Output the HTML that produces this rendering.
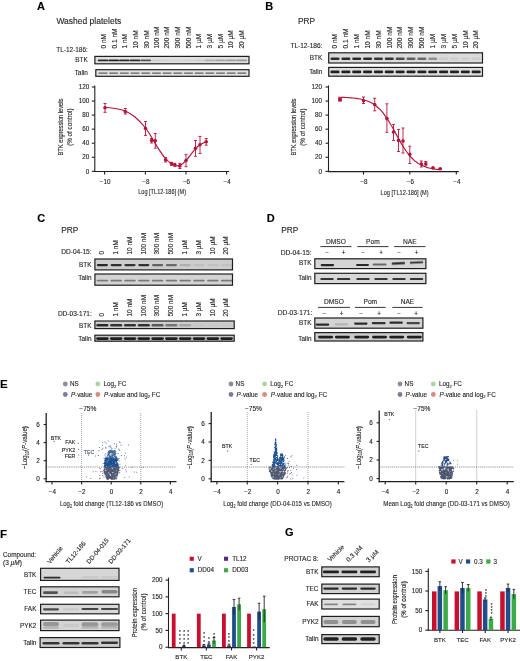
<!DOCTYPE html>
<html><head><meta charset="utf-8"><style>
html,body{margin:0;padding:0;background:#fff;width:520px;height:661px;overflow:hidden}
svg{display:block;filter:blur(0.4px)}
text{font-family:"Liberation Sans", sans-serif;stroke:#231f20;stroke-width:0.12px}
</style></head><body>
<svg width="520" height="661" viewBox="0 0 520 661" font-family='"Liberation Sans", sans-serif' fill="#231f20">
<defs><filter id="bl" x="-20%" y="-100%" width="140%" height="300%"><feGaussianBlur stdDeviation="0.45"/></filter></defs>
<rect width="520" height="661" fill="#fff"/>
<text x="37.00" y="10.20" font-size="11" font-weight="bold" fill="#000" style="stroke:#000">A</text>
<text x="56.40" y="24.00" font-size="8.5">Washed platelets</text>
<text x="56.30" y="52.00" font-size="6.45">TL-12-186:</text>
<text x="106.10" y="48.60" font-size="6.6" transform="rotate(-90 106.10 48.60)">0 nM</text>
<text x="116.78" y="48.60" font-size="6.6" transform="rotate(-90 116.78 48.60)">0.1 nM</text>
<text x="127.46" y="48.60" font-size="6.6" transform="rotate(-90 127.46 48.60)">1 nM</text>
<text x="138.14" y="48.60" font-size="6.6" transform="rotate(-90 138.14 48.60)">10 nM</text>
<text x="148.82" y="48.60" font-size="6.6" transform="rotate(-90 148.82 48.60)">30 nM</text>
<text x="158.70" y="48.60" font-size="6.6" transform="rotate(-90 158.70 48.60)">100 nM</text>
<text x="169.38" y="48.60" font-size="6.6" transform="rotate(-90 169.38 48.60)">200 nM</text>
<text x="180.06" y="48.60" font-size="6.6" transform="rotate(-90 180.06 48.60)">300 nM</text>
<text x="190.74" y="48.60" font-size="6.6" transform="rotate(-90 190.74 48.60)">500 nM</text>
<text x="201.42" y="48.60" font-size="6.6" transform="rotate(-90 201.42 48.60)">1 µM</text>
<text x="212.10" y="48.60" font-size="6.6" transform="rotate(-90 212.10 48.60)">3 µM</text>
<text x="222.78" y="48.60" font-size="6.6" transform="rotate(-90 222.78 48.60)">5 µM</text>
<text x="233.46" y="48.60" font-size="6.6" transform="rotate(-90 233.46 48.60)">10 µM</text>
<text x="244.14" y="48.60" font-size="6.6" transform="rotate(-90 244.14 48.60)">20 µM</text>
<text x="87.80" y="62.30" font-size="6.4" text-anchor="end">BTK</text>
<text x="87.80" y="75.30" font-size="6.4" text-anchor="end">Talin</text>
<rect x="94.90" y="56.40" width="154.10" height="7.40" fill="#e0e0e0" stroke="#1e1e1e" stroke-width="1.2" />
<rect x="97.70" y="59.45" width="10.60" height="1.90" rx="0.95" fill="#111" opacity="0.85" filter="url(#bl)"/>
<rect x="108.38" y="59.45" width="10.60" height="1.90" rx="0.95" fill="#111" opacity="0.90" filter="url(#bl)"/>
<rect x="119.06" y="59.45" width="10.60" height="1.90" rx="0.95" fill="#111" opacity="0.85" filter="url(#bl)"/>
<rect x="129.74" y="59.45" width="10.60" height="1.90" rx="0.95" fill="#111" opacity="0.85" filter="url(#bl)"/>
<rect x="140.42" y="59.45" width="10.60" height="1.90" rx="0.95" fill="#111" opacity="0.65" filter="url(#bl)"/>
<rect x="151.10" y="59.45" width="10.60" height="1.90" rx="0.95" fill="#111" opacity="0.08" filter="url(#bl)"/>
<rect x="161.78" y="59.45" width="10.60" height="1.90" rx="0.95" fill="#111" opacity="0.06" filter="url(#bl)"/>
<rect x="172.46" y="59.45" width="10.60" height="1.90" rx="0.95" fill="#111" opacity="0.06" filter="url(#bl)"/>
<rect x="183.14" y="59.45" width="10.60" height="1.90" rx="0.95" fill="#111" opacity="0.06" filter="url(#bl)"/>
<rect x="193.82" y="59.45" width="10.60" height="1.90" rx="0.95" fill="#111" opacity="0.08" filter="url(#bl)"/>
<rect x="204.50" y="59.45" width="10.60" height="1.90" rx="0.95" fill="#111" opacity="0.22" filter="url(#bl)"/>
<rect x="215.18" y="59.45" width="10.60" height="1.90" rx="0.95" fill="#111" opacity="0.28" filter="url(#bl)"/>
<rect x="225.86" y="59.45" width="10.60" height="1.90" rx="0.95" fill="#111" opacity="0.30" filter="url(#bl)"/>
<rect x="236.54" y="59.45" width="10.60" height="1.90" rx="0.95" fill="#111" opacity="0.33" filter="url(#bl)"/>
<rect x="95.80" y="69.70" width="153.20" height="6.60" fill="#e4e4e4" stroke="#1e1e1e" stroke-width="1.2" />
<rect x="98.40" y="72.40" width="9.20" height="1.40" rx="0.70" fill="#111" opacity="0.65" filter="url(#bl)"/>
<rect x="109.08" y="72.40" width="9.20" height="1.40" rx="0.70" fill="#111" opacity="0.65" filter="url(#bl)"/>
<rect x="119.76" y="72.40" width="9.20" height="1.40" rx="0.70" fill="#111" opacity="0.65" filter="url(#bl)"/>
<rect x="130.44" y="72.40" width="9.20" height="1.40" rx="0.70" fill="#111" opacity="0.65" filter="url(#bl)"/>
<rect x="141.12" y="72.40" width="9.20" height="1.40" rx="0.70" fill="#111" opacity="0.65" filter="url(#bl)"/>
<rect x="151.80" y="72.40" width="9.20" height="1.40" rx="0.70" fill="#111" opacity="0.65" filter="url(#bl)"/>
<rect x="162.48" y="72.40" width="9.20" height="1.40" rx="0.70" fill="#111" opacity="0.65" filter="url(#bl)"/>
<rect x="173.16" y="72.40" width="9.20" height="1.40" rx="0.70" fill="#111" opacity="0.65" filter="url(#bl)"/>
<rect x="183.84" y="72.40" width="9.20" height="1.40" rx="0.70" fill="#111" opacity="0.65" filter="url(#bl)"/>
<rect x="194.52" y="72.40" width="9.20" height="1.40" rx="0.70" fill="#111" opacity="0.65" filter="url(#bl)"/>
<rect x="205.20" y="72.40" width="9.20" height="1.40" rx="0.70" fill="#111" opacity="0.65" filter="url(#bl)"/>
<rect x="215.88" y="72.40" width="9.20" height="1.40" rx="0.70" fill="#111" opacity="0.65" filter="url(#bl)"/>
<rect x="226.56" y="72.40" width="9.20" height="1.40" rx="0.70" fill="#111" opacity="0.65" filter="url(#bl)"/>
<rect x="237.24" y="72.40" width="9.20" height="1.40" rx="0.70" fill="#111" opacity="0.65" filter="url(#bl)"/>
<line x1="94.80" y1="85.50" x2="94.80" y2="172.00" stroke="#231f20" stroke-width="1.1"/>
<line x1="91.80" y1="171.30" x2="94.80" y2="171.30" stroke="#231f20" stroke-width="1.1"/>
<text x="89.30" y="173.50" font-size="6.3" text-anchor="end">0</text>
<line x1="91.80" y1="157.25" x2="94.80" y2="157.25" stroke="#231f20" stroke-width="1.1"/>
<text x="89.30" y="159.45" font-size="6.3" text-anchor="end">20</text>
<line x1="91.80" y1="143.20" x2="94.80" y2="143.20" stroke="#231f20" stroke-width="1.1"/>
<text x="89.30" y="145.40" font-size="6.3" text-anchor="end">40</text>
<line x1="91.80" y1="129.15" x2="94.80" y2="129.15" stroke="#231f20" stroke-width="1.1"/>
<text x="89.30" y="131.35" font-size="6.3" text-anchor="end">60</text>
<line x1="91.80" y1="115.10" x2="94.80" y2="115.10" stroke="#231f20" stroke-width="1.1"/>
<text x="89.30" y="117.30" font-size="6.3" text-anchor="end">80</text>
<line x1="91.80" y1="101.05" x2="94.80" y2="101.05" stroke="#231f20" stroke-width="1.1"/>
<text x="89.30" y="103.25" font-size="6.3" text-anchor="end">100</text>
<line x1="91.80" y1="87.00" x2="94.80" y2="87.00" stroke="#231f20" stroke-width="1.1"/>
<text x="89.30" y="89.20" font-size="6.3" text-anchor="end">120</text>
<line x1="94.20" y1="171.50" x2="229.20" y2="171.50" stroke="#231f20" stroke-width="1.1"/>
<line x1="104.60" y1="171.50" x2="104.60" y2="174.60" stroke="#231f20" stroke-width="1.1"/>
<text x="105.10" y="183.60" font-size="6.3" text-anchor="middle">−10</text>
<line x1="145.40" y1="171.50" x2="145.40" y2="174.60" stroke="#231f20" stroke-width="1.1"/>
<text x="145.90" y="183.60" font-size="6.3" text-anchor="middle">−8</text>
<line x1="186.00" y1="171.50" x2="186.00" y2="174.60" stroke="#231f20" stroke-width="1.1"/>
<text x="186.50" y="183.60" font-size="6.3" text-anchor="middle">−6</text>
<line x1="226.60" y1="171.50" x2="226.60" y2="174.60" stroke="#231f20" stroke-width="1.1"/>
<text x="227.10" y="183.60" font-size="6.3" text-anchor="middle">−4</text>
<text x="138.20" y="194.40" font-size="7.0" textLength="47.80" lengthAdjust="spacingAndGlyphs">Log [TL12-186] (M)</text>
<text x="63.10" y="127.10" font-size="6.8" text-anchor="middle" textLength="57.00" lengthAdjust="spacingAndGlyphs" transform="rotate(-90 63.10 127.10)">BTK expression levels</text>
<text x="71.90" y="127.10" font-size="6.8" text-anchor="middle" textLength="37.40" lengthAdjust="spacingAndGlyphs" transform="rotate(-90 71.90 127.10)">(% of control)</text>
<path d="M105.00,107.30 C106.67,107.50 111.67,107.88 115.00,108.50 C118.33,109.12 121.67,109.58 125.00,111.00 C128.33,112.42 131.58,114.17 135.00,117.00 C138.42,119.83 142.67,124.50 145.50,128.00 C148.33,131.50 149.92,134.67 152.00,138.00 C154.08,141.33 155.83,144.67 158.00,148.00 C160.17,151.33 162.83,155.42 165.00,158.00 C167.17,160.58 169.17,162.23 171.00,163.50 C172.83,164.77 174.50,165.27 176.00,165.60 C177.50,165.93 178.33,166.33 180.00,165.50 C181.67,164.67 183.42,163.42 186.00,160.60 C188.58,157.78 193.17,151.22 195.50,148.60 C197.83,145.98 198.22,146.05 200.00,144.90 C201.78,143.75 205.17,142.23 206.20,141.70" fill="none" stroke="#b3133a" stroke-width="1.15"/>
<line x1="105.00" y1="103.50" x2="105.00" y2="112.30" stroke="#b3133a" stroke-width="0.9"/>
<line x1="103.50" y1="103.50" x2="106.50" y2="103.50" stroke="#b3133a" stroke-width="0.9"/>
<line x1="103.50" y1="112.30" x2="106.50" y2="112.30" stroke="#b3133a" stroke-width="0.9"/>
<circle cx="105.00" cy="107.70" r="1.8" fill="#b3133a"/>
<line x1="125.30" y1="108.50" x2="125.30" y2="114.00" stroke="#b3133a" stroke-width="0.9"/>
<line x1="123.80" y1="108.50" x2="126.80" y2="108.50" stroke="#b3133a" stroke-width="0.9"/>
<line x1="123.80" y1="114.00" x2="126.80" y2="114.00" stroke="#b3133a" stroke-width="0.9"/>
<circle cx="125.30" cy="111.50" r="1.8" fill="#b3133a"/>
<line x1="145.50" y1="121.50" x2="145.50" y2="135.40" stroke="#b3133a" stroke-width="0.9"/>
<line x1="144.00" y1="121.50" x2="147.00" y2="121.50" stroke="#b3133a" stroke-width="0.9"/>
<line x1="144.00" y1="135.40" x2="147.00" y2="135.40" stroke="#b3133a" stroke-width="0.9"/>
<circle cx="145.50" cy="128.50" r="1.8" fill="#b3133a"/>
<line x1="151.60" y1="138.50" x2="151.60" y2="143.00" stroke="#b3133a" stroke-width="0.9"/>
<line x1="150.10" y1="138.50" x2="153.10" y2="138.50" stroke="#b3133a" stroke-width="0.9"/>
<line x1="150.10" y1="143.00" x2="153.10" y2="143.00" stroke="#b3133a" stroke-width="0.9"/>
<circle cx="151.60" cy="140.50" r="1.8" fill="#b3133a"/>
<line x1="155.30" y1="133.50" x2="155.30" y2="148.20" stroke="#b3133a" stroke-width="0.9"/>
<line x1="153.80" y1="133.50" x2="156.80" y2="133.50" stroke="#b3133a" stroke-width="0.9"/>
<line x1="153.80" y1="148.20" x2="156.80" y2="148.20" stroke="#b3133a" stroke-width="0.9"/>
<circle cx="155.30" cy="140.80" r="1.8" fill="#b3133a"/>
<line x1="165.60" y1="157.50" x2="165.60" y2="162.00" stroke="#b3133a" stroke-width="0.9"/>
<line x1="164.10" y1="157.50" x2="167.10" y2="157.50" stroke="#b3133a" stroke-width="0.9"/>
<line x1="164.10" y1="162.00" x2="167.10" y2="162.00" stroke="#b3133a" stroke-width="0.9"/>
<circle cx="165.60" cy="159.70" r="1.8" fill="#b3133a"/>
<line x1="171.50" y1="162.30" x2="171.50" y2="165.30" stroke="#b3133a" stroke-width="0.9"/>
<line x1="170.00" y1="162.30" x2="173.00" y2="162.30" stroke="#b3133a" stroke-width="0.9"/>
<line x1="170.00" y1="165.30" x2="173.00" y2="165.30" stroke="#b3133a" stroke-width="0.9"/>
<circle cx="171.50" cy="163.80" r="1.8" fill="#b3133a"/>
<line x1="174.80" y1="163.30" x2="174.80" y2="166.30" stroke="#b3133a" stroke-width="0.9"/>
<line x1="173.30" y1="163.30" x2="176.30" y2="163.30" stroke="#b3133a" stroke-width="0.9"/>
<line x1="173.30" y1="166.30" x2="176.30" y2="166.30" stroke="#b3133a" stroke-width="0.9"/>
<circle cx="174.80" cy="164.80" r="1.8" fill="#b3133a"/>
<line x1="179.80" y1="163.30" x2="179.80" y2="168.50" stroke="#b3133a" stroke-width="0.9"/>
<line x1="178.30" y1="163.30" x2="181.30" y2="163.30" stroke="#b3133a" stroke-width="0.9"/>
<line x1="178.30" y1="168.50" x2="181.30" y2="168.50" stroke="#b3133a" stroke-width="0.9"/>
<circle cx="179.80" cy="165.90" r="1.8" fill="#b3133a"/>
<line x1="186.00" y1="154.40" x2="186.00" y2="166.70" stroke="#b3133a" stroke-width="0.9"/>
<line x1="184.50" y1="154.40" x2="187.50" y2="154.40" stroke="#b3133a" stroke-width="0.9"/>
<line x1="184.50" y1="166.70" x2="187.50" y2="166.70" stroke="#b3133a" stroke-width="0.9"/>
<circle cx="186.00" cy="160.60" r="1.8" fill="#b3133a"/>
<line x1="195.50" y1="140.50" x2="195.50" y2="156.30" stroke="#b3133a" stroke-width="0.9"/>
<line x1="194.00" y1="140.50" x2="197.00" y2="140.50" stroke="#b3133a" stroke-width="0.9"/>
<line x1="194.00" y1="156.30" x2="197.00" y2="156.30" stroke="#b3133a" stroke-width="0.9"/>
<circle cx="195.50" cy="148.30" r="1.8" fill="#b3133a"/>
<line x1="200.00" y1="136.40" x2="200.00" y2="153.50" stroke="#b3133a" stroke-width="0.9"/>
<line x1="198.50" y1="136.40" x2="201.50" y2="136.40" stroke="#b3133a" stroke-width="0.9"/>
<line x1="198.50" y1="153.50" x2="201.50" y2="153.50" stroke="#b3133a" stroke-width="0.9"/>
<circle cx="200.00" cy="144.80" r="1.8" fill="#b3133a"/>
<line x1="206.20" y1="138.50" x2="206.20" y2="145.20" stroke="#b3133a" stroke-width="0.9"/>
<line x1="204.70" y1="138.50" x2="207.70" y2="138.50" stroke="#b3133a" stroke-width="0.9"/>
<line x1="204.70" y1="145.20" x2="207.70" y2="145.20" stroke="#b3133a" stroke-width="0.9"/>
<circle cx="206.20" cy="141.70" r="1.8" fill="#b3133a"/>
<text x="265.20" y="10.20" font-size="11" font-weight="bold" fill="#000" style="stroke:#000">B</text>
<text x="298.00" y="24.00" font-size="8.3">PRP</text>
<text x="290.40" y="47.70" font-size="6.55">TL-12-186:</text>
<text x="337.30" y="48.60" font-size="6.6" transform="rotate(-90 337.30 48.60)">0 nM</text>
<text x="348.16" y="48.60" font-size="6.6" transform="rotate(-90 348.16 48.60)">0.1 nM</text>
<text x="359.02" y="48.60" font-size="6.6" transform="rotate(-90 359.02 48.60)">1 nM</text>
<text x="369.88" y="48.60" font-size="6.6" transform="rotate(-90 369.88 48.60)">10 nM</text>
<text x="380.74" y="48.60" font-size="6.6" transform="rotate(-90 380.74 48.60)">30 nM</text>
<text x="391.60" y="48.60" font-size="6.6" transform="rotate(-90 391.60 48.60)">100 nM</text>
<text x="402.46" y="48.60" font-size="6.6" transform="rotate(-90 402.46 48.60)">200 nM</text>
<text x="413.32" y="48.60" font-size="6.6" transform="rotate(-90 413.32 48.60)">300 nM</text>
<text x="424.18" y="48.60" font-size="6.6" transform="rotate(-90 424.18 48.60)">500 nM</text>
<text x="435.04" y="48.60" font-size="6.6" transform="rotate(-90 435.04 48.60)">1 µM</text>
<text x="445.90" y="48.60" font-size="6.6" transform="rotate(-90 445.90 48.60)">3 µM</text>
<text x="456.76" y="48.60" font-size="6.6" transform="rotate(-90 456.76 48.60)">5 µM</text>
<text x="467.62" y="48.60" font-size="6.6" transform="rotate(-90 467.62 48.60)">10 µM</text>
<text x="478.48" y="48.60" font-size="6.6" transform="rotate(-90 478.48 48.60)">20 µM</text>
<text x="322.30" y="59.80" font-size="6.4" text-anchor="end">BTK</text>
<text x="322.30" y="73.80" font-size="6.4" text-anchor="end">Talin</text>
<rect x="328.70" y="52.80" width="153.80" height="10.20" fill="#dadada" stroke="#1e1e1e" stroke-width="1.2" />
<rect x="330.50" y="57.45" width="9.00" height="2.50" rx="1.25" fill="#111" opacity="0.85" filter="url(#bl)"/>
<rect x="341.36" y="57.45" width="9.00" height="2.50" rx="1.25" fill="#111" opacity="0.85" filter="url(#bl)"/>
<rect x="352.22" y="57.45" width="9.00" height="2.50" rx="1.25" fill="#111" opacity="0.85" filter="url(#bl)"/>
<rect x="363.08" y="57.45" width="9.00" height="2.50" rx="1.25" fill="#111" opacity="0.85" filter="url(#bl)"/>
<rect x="373.94" y="57.45" width="9.00" height="2.50" rx="1.25" fill="#111" opacity="0.80" filter="url(#bl)"/>
<rect x="384.80" y="57.45" width="9.00" height="2.50" rx="1.25" fill="#111" opacity="0.80" filter="url(#bl)"/>
<rect x="395.66" y="57.45" width="9.00" height="2.50" rx="1.25" fill="#111" opacity="0.70" filter="url(#bl)"/>
<rect x="406.52" y="57.45" width="9.00" height="2.50" rx="1.25" fill="#111" opacity="0.60" filter="url(#bl)"/>
<rect x="417.38" y="57.45" width="9.00" height="2.50" rx="1.25" fill="#111" opacity="0.55" filter="url(#bl)"/>
<rect x="428.24" y="57.45" width="9.00" height="2.50" rx="1.25" fill="#111" opacity="0.35" filter="url(#bl)"/>
<rect x="439.10" y="57.45" width="9.00" height="2.50" rx="1.25" fill="#111" opacity="0.06" filter="url(#bl)"/>
<rect x="449.96" y="57.45" width="9.00" height="2.50" rx="1.25" fill="#111" opacity="0.05" filter="url(#bl)"/>
<rect x="460.82" y="57.45" width="9.00" height="2.50" rx="1.25" fill="#111" opacity="0.05" filter="url(#bl)"/>
<rect x="471.68" y="57.45" width="9.00" height="2.50" rx="1.25" fill="#111" opacity="0.05" filter="url(#bl)"/>
<rect x="328.70" y="67.40" width="153.80" height="8.80" fill="#dcdcdc" stroke="#1e1e1e" stroke-width="1.2" />
<rect x="330.40" y="70.55" width="9.20" height="2.70" rx="1.35" fill="#111" opacity="0.90" filter="url(#bl)"/>
<rect x="341.26" y="70.55" width="9.20" height="2.70" rx="1.35" fill="#111" opacity="0.90" filter="url(#bl)"/>
<rect x="352.12" y="70.55" width="9.20" height="2.70" rx="1.35" fill="#111" opacity="0.90" filter="url(#bl)"/>
<rect x="362.98" y="70.55" width="9.20" height="2.70" rx="1.35" fill="#111" opacity="0.90" filter="url(#bl)"/>
<rect x="373.84" y="70.55" width="9.20" height="2.70" rx="1.35" fill="#111" opacity="0.90" filter="url(#bl)"/>
<rect x="384.70" y="70.55" width="9.20" height="2.70" rx="1.35" fill="#111" opacity="0.90" filter="url(#bl)"/>
<rect x="395.56" y="70.55" width="9.20" height="2.70" rx="1.35" fill="#111" opacity="0.90" filter="url(#bl)"/>
<rect x="406.42" y="70.55" width="9.20" height="2.70" rx="1.35" fill="#111" opacity="0.90" filter="url(#bl)"/>
<rect x="417.28" y="70.55" width="9.20" height="2.70" rx="1.35" fill="#111" opacity="0.90" filter="url(#bl)"/>
<rect x="428.14" y="70.55" width="9.20" height="2.70" rx="1.35" fill="#111" opacity="0.90" filter="url(#bl)"/>
<rect x="439.00" y="70.55" width="9.20" height="2.70" rx="1.35" fill="#111" opacity="0.90" filter="url(#bl)"/>
<rect x="449.86" y="70.55" width="9.20" height="2.70" rx="1.35" fill="#111" opacity="0.90" filter="url(#bl)"/>
<rect x="460.72" y="70.55" width="9.20" height="2.70" rx="1.35" fill="#111" opacity="0.90" filter="url(#bl)"/>
<rect x="471.58" y="70.55" width="9.20" height="2.70" rx="1.35" fill="#111" opacity="0.90" filter="url(#bl)"/>
<line x1="328.50" y1="85.50" x2="328.50" y2="172.00" stroke="#231f20" stroke-width="1.1"/>
<line x1="325.50" y1="171.30" x2="328.50" y2="171.30" stroke="#231f20" stroke-width="1.1"/>
<text x="322.00" y="173.50" font-size="6.3" text-anchor="end">0</text>
<line x1="325.50" y1="157.25" x2="328.50" y2="157.25" stroke="#231f20" stroke-width="1.1"/>
<text x="322.00" y="159.45" font-size="6.3" text-anchor="end">20</text>
<line x1="325.50" y1="143.20" x2="328.50" y2="143.20" stroke="#231f20" stroke-width="1.1"/>
<text x="322.00" y="145.40" font-size="6.3" text-anchor="end">40</text>
<line x1="325.50" y1="129.15" x2="328.50" y2="129.15" stroke="#231f20" stroke-width="1.1"/>
<text x="322.00" y="131.35" font-size="6.3" text-anchor="end">60</text>
<line x1="325.50" y1="115.10" x2="328.50" y2="115.10" stroke="#231f20" stroke-width="1.1"/>
<text x="322.00" y="117.30" font-size="6.3" text-anchor="end">80</text>
<line x1="325.50" y1="101.05" x2="328.50" y2="101.05" stroke="#231f20" stroke-width="1.1"/>
<text x="322.00" y="103.25" font-size="6.3" text-anchor="end">100</text>
<line x1="325.50" y1="87.00" x2="328.50" y2="87.00" stroke="#231f20" stroke-width="1.1"/>
<text x="322.00" y="89.20" font-size="6.3" text-anchor="end">120</text>
<line x1="328.00" y1="171.60" x2="458.80" y2="171.60" stroke="#231f20" stroke-width="1.1"/>
<line x1="363.50" y1="171.60" x2="363.50" y2="174.60" stroke="#231f20" stroke-width="1.1"/>
<text x="364.00" y="183.60" font-size="6.3" text-anchor="middle">−8</text>
<line x1="409.80" y1="171.60" x2="409.80" y2="174.60" stroke="#231f20" stroke-width="1.1"/>
<text x="410.30" y="183.60" font-size="6.3" text-anchor="middle">−6</text>
<line x1="456.30" y1="171.60" x2="456.30" y2="174.60" stroke="#231f20" stroke-width="1.1"/>
<text x="456.80" y="183.60" font-size="6.3" text-anchor="middle">−4</text>
<text x="380.60" y="195.20" font-size="7.0" textLength="48.00" lengthAdjust="spacingAndGlyphs">Log [TL12-186] (M)</text>
<text x="296.20" y="127.10" font-size="6.8" text-anchor="middle" textLength="57.00" lengthAdjust="spacingAndGlyphs" transform="rotate(-90 296.20 127.10)">BTK expression levels</text>
<text x="305.20" y="127.10" font-size="6.8" text-anchor="middle" textLength="37.40" lengthAdjust="spacingAndGlyphs" transform="rotate(-90 305.20 127.10)">(% of control)</text>
<path d="M338.00,97.21 C338.43,97.22 339.73,97.25 340.60,97.27 C341.47,97.30 342.33,97.33 343.20,97.36 C344.07,97.40 344.93,97.43 345.80,97.48 C346.67,97.52 347.53,97.57 348.40,97.62 C349.27,97.68 350.13,97.74 351.00,97.81 C351.87,97.88 352.73,97.96 353.60,98.05 C354.47,98.15 355.33,98.25 356.20,98.37 C357.07,98.49 357.93,98.62 358.80,98.77 C359.67,98.92 360.53,99.09 361.40,99.28 C362.27,99.47 363.13,99.69 364.00,99.93 C364.87,100.18 365.73,100.45 366.60,100.76 C367.47,101.07 368.33,101.41 369.20,101.80 C370.07,102.20 370.93,102.62 371.80,103.11 C372.67,103.60 373.53,104.13 374.40,104.73 C375.27,105.33 376.13,105.98 377.00,106.71 C377.87,107.45 378.73,108.24 379.60,109.12 C380.47,109.99 381.33,110.94 382.20,111.97 C383.07,113.00 383.93,114.11 384.80,115.29 C385.67,116.48 386.53,117.75 387.40,119.08 C388.27,120.40 389.13,121.82 390.00,123.27 C390.87,124.72 391.73,126.24 392.60,127.78 C393.47,129.32 394.33,130.91 395.20,132.49 C396.07,134.06 396.93,135.67 397.80,137.24 C398.67,138.80 399.53,140.37 400.40,141.87 C401.27,143.38 402.13,144.85 403.00,146.25 C403.87,147.65 404.73,149.00 405.60,150.27 C406.47,151.53 407.33,152.73 408.20,153.85 C409.07,154.96 409.93,156.00 410.80,156.96 C411.67,157.92 412.53,158.79 413.40,159.60 C414.27,160.41 415.13,161.14 416.00,161.81 C416.87,162.48 417.73,163.07 418.60,163.62 C419.47,164.17 420.33,164.65 421.20,165.09 C422.07,165.53 422.93,165.92 423.80,166.27 C424.67,166.63 425.53,166.93 426.40,167.21 C427.27,167.49 428.13,167.74 429.00,167.96 C429.87,168.18 430.73,168.37 431.60,168.54 C432.47,168.72 433.33,168.86 434.20,169.00 C435.07,169.14 435.93,169.25 436.80,169.36 C437.67,169.46 438.97,169.59 439.40,169.64" fill="none" stroke="#b3133a" stroke-width="1.15"/>
<line x1="340.00" y1="99.80" x2="340.00" y2="99.80" stroke="#b3133a" stroke-width="0.9"/>
<line x1="338.50" y1="99.80" x2="341.50" y2="99.80" stroke="#b3133a" stroke-width="0.9"/>
<line x1="338.50" y1="99.80" x2="341.50" y2="99.80" stroke="#b3133a" stroke-width="0.9"/>
<rect x="338.20" y="98.00" width="3.60" height="3.60" fill="#b3133a" />
<line x1="363.50" y1="97.00" x2="363.50" y2="103.50" stroke="#b3133a" stroke-width="0.9"/>
<line x1="362.00" y1="97.00" x2="365.00" y2="97.00" stroke="#b3133a" stroke-width="0.9"/>
<line x1="362.00" y1="103.50" x2="365.00" y2="103.50" stroke="#b3133a" stroke-width="0.9"/>
<circle cx="363.50" cy="100.80" r="1.8" fill="#b3133a"/>
<line x1="374.70" y1="98.30" x2="374.70" y2="110.80" stroke="#b3133a" stroke-width="0.9"/>
<line x1="373.20" y1="98.30" x2="376.20" y2="98.30" stroke="#b3133a" stroke-width="0.9"/>
<line x1="373.20" y1="110.80" x2="376.20" y2="110.80" stroke="#b3133a" stroke-width="0.9"/>
<circle cx="374.70" cy="104.50" r="1.8" fill="#b3133a"/>
<line x1="386.90" y1="103.80" x2="386.90" y2="132.30" stroke="#b3133a" stroke-width="0.9"/>
<line x1="385.40" y1="103.80" x2="388.40" y2="103.80" stroke="#b3133a" stroke-width="0.9"/>
<line x1="385.40" y1="132.30" x2="388.40" y2="132.30" stroke="#b3133a" stroke-width="0.9"/>
<circle cx="386.90" cy="118.50" r="1.8" fill="#b3133a"/>
<line x1="393.50" y1="124.60" x2="393.50" y2="140.40" stroke="#b3133a" stroke-width="0.9"/>
<line x1="392.00" y1="124.60" x2="395.00" y2="124.60" stroke="#b3133a" stroke-width="0.9"/>
<line x1="392.00" y1="140.40" x2="395.00" y2="140.40" stroke="#b3133a" stroke-width="0.9"/>
<circle cx="393.50" cy="132.00" r="1.8" fill="#b3133a"/>
<line x1="398.50" y1="129.40" x2="398.50" y2="151.50" stroke="#b3133a" stroke-width="0.9"/>
<line x1="397.00" y1="129.40" x2="400.00" y2="129.40" stroke="#b3133a" stroke-width="0.9"/>
<line x1="397.00" y1="151.50" x2="400.00" y2="151.50" stroke="#b3133a" stroke-width="0.9"/>
<circle cx="398.50" cy="140.40" r="1.8" fill="#b3133a"/>
<line x1="403.00" y1="128.00" x2="403.00" y2="153.00" stroke="#b3133a" stroke-width="0.9"/>
<line x1="401.50" y1="128.00" x2="404.50" y2="128.00" stroke="#b3133a" stroke-width="0.9"/>
<line x1="401.50" y1="153.00" x2="404.50" y2="153.00" stroke="#b3133a" stroke-width="0.9"/>
<circle cx="403.00" cy="141.00" r="1.8" fill="#b3133a"/>
<line x1="409.80" y1="146.20" x2="409.80" y2="163.50" stroke="#b3133a" stroke-width="0.9"/>
<line x1="408.30" y1="146.20" x2="411.30" y2="146.20" stroke="#b3133a" stroke-width="0.9"/>
<line x1="408.30" y1="163.50" x2="411.30" y2="163.50" stroke="#b3133a" stroke-width="0.9"/>
<circle cx="409.80" cy="154.40" r="1.8" fill="#b3133a"/>
<line x1="421.30" y1="161.00" x2="421.30" y2="167.00" stroke="#b3133a" stroke-width="0.9"/>
<line x1="419.80" y1="161.00" x2="422.80" y2="161.00" stroke="#b3133a" stroke-width="0.9"/>
<line x1="419.80" y1="167.00" x2="422.80" y2="167.00" stroke="#b3133a" stroke-width="0.9"/>
<circle cx="421.30" cy="164.00" r="1.8" fill="#b3133a"/>
<line x1="425.80" y1="161.50" x2="425.80" y2="165.80" stroke="#b3133a" stroke-width="0.9"/>
<line x1="424.30" y1="161.50" x2="427.30" y2="161.50" stroke="#b3133a" stroke-width="0.9"/>
<line x1="424.30" y1="165.80" x2="427.30" y2="165.80" stroke="#b3133a" stroke-width="0.9"/>
<circle cx="425.80" cy="163.70" r="1.8" fill="#b3133a"/>
<line x1="433.00" y1="167.90" x2="433.00" y2="167.90" stroke="#b3133a" stroke-width="0.9"/>
<line x1="431.50" y1="167.90" x2="434.50" y2="167.90" stroke="#b3133a" stroke-width="0.9"/>
<line x1="431.50" y1="167.90" x2="434.50" y2="167.90" stroke="#b3133a" stroke-width="0.9"/>
<circle cx="433.00" cy="167.90" r="1.8" fill="#b3133a"/>
<line x1="440.20" y1="168.80" x2="440.20" y2="168.80" stroke="#b3133a" stroke-width="0.9"/>
<line x1="438.70" y1="168.80" x2="441.70" y2="168.80" stroke="#b3133a" stroke-width="0.9"/>
<line x1="438.70" y1="168.80" x2="441.70" y2="168.80" stroke="#b3133a" stroke-width="0.9"/>
<circle cx="440.20" cy="168.80" r="1.8" fill="#b3133a"/>
<text x="37.30" y="222.20" font-size="11" font-weight="bold" fill="#000" style="stroke:#000">C</text>
<text x="61.20" y="232.80" font-size="8.3">PRP</text>
<text x="61.20" y="254.00" font-size="6.6">DD-04-15:</text>
<text x="104.30" y="254.60" font-size="6.5" transform="rotate(-90 104.30 254.60)">0</text>
<text x="118.10" y="254.60" font-size="6.5" transform="rotate(-90 118.10 254.60)">1 nM</text>
<text x="131.90" y="254.60" font-size="6.5" transform="rotate(-90 131.90 254.60)">10 nM</text>
<text x="145.70" y="254.60" font-size="6.5" transform="rotate(-90 145.70 254.60)">100 nM</text>
<text x="159.50" y="254.60" font-size="6.5" transform="rotate(-90 159.50 254.60)">300 nM</text>
<text x="173.30" y="254.60" font-size="6.5" transform="rotate(-90 173.30 254.60)">500 nM</text>
<text x="187.10" y="254.60" font-size="6.5" transform="rotate(-90 187.10 254.60)">1 µM</text>
<text x="200.90" y="254.60" font-size="6.5" transform="rotate(-90 200.90 254.60)">3 µM</text>
<text x="214.70" y="254.60" font-size="6.5" transform="rotate(-90 214.70 254.60)">10 µM</text>
<text x="228.50" y="254.60" font-size="6.5" transform="rotate(-90 228.50 254.60)">20 µM</text>
<text x="91.50" y="267.00" font-size="6.4" text-anchor="end">BTK</text>
<text x="91.50" y="280.30" font-size="6.4" text-anchor="end">Talin</text>
<rect x="94.90" y="259.00" width="137.60" height="10.90" fill="#cdcdcd" stroke="#1e1e1e" stroke-width="1.2" />
<rect x="96.80" y="263.95" width="11.20" height="2.30" rx="1.15" fill="#111" opacity="0.85" filter="url(#bl)"/>
<rect x="110.60" y="263.95" width="11.20" height="2.30" rx="1.15" fill="#111" opacity="0.80" filter="url(#bl)"/>
<rect x="124.40" y="263.95" width="11.20" height="2.30" rx="1.15" fill="#111" opacity="0.80" filter="url(#bl)"/>
<rect x="138.20" y="263.95" width="11.20" height="2.30" rx="1.15" fill="#111" opacity="0.80" filter="url(#bl)"/>
<rect x="152.00" y="263.95" width="11.20" height="2.30" rx="1.15" fill="#111" opacity="0.55" filter="url(#bl)"/>
<rect x="165.80" y="263.95" width="11.20" height="2.30" rx="1.15" fill="#111" opacity="0.50" filter="url(#bl)"/>
<rect x="179.60" y="263.95" width="11.20" height="2.30" rx="1.15" fill="#111" opacity="0.15" filter="url(#bl)"/>
<rect x="193.40" y="263.95" width="11.20" height="2.30" rx="1.15" fill="#111" opacity="0.07" filter="url(#bl)"/>
<rect x="207.20" y="263.95" width="11.20" height="2.30" rx="1.15" fill="#111" opacity="0.06" filter="url(#bl)"/>
<rect x="221.00" y="263.95" width="11.20" height="2.30" rx="1.15" fill="#111" opacity="0.06" filter="url(#bl)"/>
<rect x="94.90" y="274.00" width="137.60" height="11.20" fill="#d3d3d3" stroke="#1e1e1e" stroke-width="1.2" />
<rect x="96.65" y="279.75" width="11.50" height="1.70" rx="0.85" fill="#111" opacity="0.45" filter="url(#bl)"/>
<rect x="110.45" y="279.75" width="11.50" height="1.70" rx="0.85" fill="#111" opacity="0.45" filter="url(#bl)"/>
<rect x="124.25" y="279.75" width="11.50" height="1.70" rx="0.85" fill="#111" opacity="0.45" filter="url(#bl)"/>
<rect x="138.05" y="279.75" width="11.50" height="1.70" rx="0.85" fill="#111" opacity="0.45" filter="url(#bl)"/>
<rect x="151.85" y="279.75" width="11.50" height="1.70" rx="0.85" fill="#111" opacity="0.45" filter="url(#bl)"/>
<rect x="165.65" y="279.75" width="11.50" height="1.70" rx="0.85" fill="#111" opacity="0.45" filter="url(#bl)"/>
<rect x="179.45" y="279.75" width="11.50" height="1.70" rx="0.85" fill="#111" opacity="0.45" filter="url(#bl)"/>
<rect x="193.25" y="279.75" width="11.50" height="1.70" rx="0.85" fill="#111" opacity="0.45" filter="url(#bl)"/>
<rect x="207.05" y="279.75" width="11.50" height="1.70" rx="0.85" fill="#111" opacity="0.45" filter="url(#bl)"/>
<rect x="220.85" y="279.75" width="11.50" height="1.70" rx="0.85" fill="#111" opacity="0.45" filter="url(#bl)"/>
<text x="57.90" y="316.00" font-size="6.55">DD-03-171:</text>
<text x="104.30" y="316.60" font-size="6.5" transform="rotate(-90 104.30 316.60)">0</text>
<text x="118.10" y="316.60" font-size="6.5" transform="rotate(-90 118.10 316.60)">1 nM</text>
<text x="131.90" y="316.60" font-size="6.5" transform="rotate(-90 131.90 316.60)">10 nM</text>
<text x="145.70" y="316.60" font-size="6.5" transform="rotate(-90 145.70 316.60)">100 nM</text>
<text x="159.50" y="316.60" font-size="6.5" transform="rotate(-90 159.50 316.60)">300 nM</text>
<text x="173.30" y="316.60" font-size="6.5" transform="rotate(-90 173.30 316.60)">500 nM</text>
<text x="187.10" y="316.60" font-size="6.5" transform="rotate(-90 187.10 316.60)">1 µM</text>
<text x="200.90" y="316.60" font-size="6.5" transform="rotate(-90 200.90 316.60)">3 µM</text>
<text x="214.70" y="316.60" font-size="6.5" transform="rotate(-90 214.70 316.60)">10 µM</text>
<text x="228.50" y="316.60" font-size="6.5" transform="rotate(-90 228.50 316.60)">20 µM</text>
<text x="91.50" y="327.50" font-size="6.4" text-anchor="end">BTK</text>
<text x="91.50" y="340.50" font-size="6.4" text-anchor="end">Talin</text>
<rect x="94.90" y="321.00" width="139.30" height="7.60" fill="#cdcdcd" stroke="#1e1e1e" stroke-width="1.2" />
<rect x="96.40" y="324.10" width="12.00" height="2.40" rx="1.20" fill="#111" opacity="0.85" filter="url(#bl)"/>
<rect x="110.20" y="324.10" width="12.00" height="2.40" rx="1.20" fill="#111" opacity="0.80" filter="url(#bl)"/>
<rect x="124.00" y="324.10" width="12.00" height="2.40" rx="1.20" fill="#111" opacity="0.80" filter="url(#bl)"/>
<rect x="137.80" y="324.10" width="12.00" height="2.40" rx="1.20" fill="#111" opacity="0.80" filter="url(#bl)"/>
<rect x="151.60" y="324.10" width="12.00" height="2.40" rx="1.20" fill="#111" opacity="0.60" filter="url(#bl)"/>
<rect x="165.40" y="324.10" width="12.00" height="2.40" rx="1.20" fill="#111" opacity="0.45" filter="url(#bl)"/>
<rect x="179.20" y="324.10" width="12.00" height="2.40" rx="1.20" fill="#111" opacity="0.20" filter="url(#bl)"/>
<rect x="193.00" y="324.10" width="12.00" height="2.40" rx="1.20" fill="#111" opacity="0.03" filter="url(#bl)"/>
<rect x="206.80" y="324.10" width="12.00" height="2.40" rx="1.20" fill="#111" opacity="0.02" filter="url(#bl)"/>
<rect x="220.60" y="324.10" width="12.00" height="2.40" rx="1.20" fill="#111" opacity="0.02" filter="url(#bl)"/>
<rect x="94.90" y="335.20" width="139.30" height="6.00" fill="#c4c4c4" stroke="#1e1e1e" stroke-width="1.2" />
<rect x="96.15" y="337.20" width="12.50" height="2.80" rx="1.40" fill="#111" opacity="0.90" filter="url(#bl)"/>
<rect x="109.95" y="337.20" width="12.50" height="2.80" rx="1.40" fill="#111" opacity="0.90" filter="url(#bl)"/>
<rect x="123.75" y="337.20" width="12.50" height="2.80" rx="1.40" fill="#111" opacity="0.90" filter="url(#bl)"/>
<rect x="137.55" y="337.20" width="12.50" height="2.80" rx="1.40" fill="#111" opacity="0.90" filter="url(#bl)"/>
<rect x="151.35" y="337.20" width="12.50" height="2.80" rx="1.40" fill="#111" opacity="0.90" filter="url(#bl)"/>
<rect x="165.15" y="337.20" width="12.50" height="2.80" rx="1.40" fill="#111" opacity="0.90" filter="url(#bl)"/>
<rect x="178.95" y="337.20" width="12.50" height="2.80" rx="1.40" fill="#111" opacity="0.90" filter="url(#bl)"/>
<rect x="192.75" y="337.20" width="12.50" height="2.80" rx="1.40" fill="#111" opacity="0.90" filter="url(#bl)"/>
<rect x="206.55" y="337.20" width="12.50" height="2.80" rx="1.40" fill="#111" opacity="0.90" filter="url(#bl)"/>
<rect x="220.35" y="337.20" width="12.50" height="2.80" rx="1.40" fill="#111" opacity="0.90" filter="url(#bl)"/>
<text x="266.70" y="222.40" font-size="11" font-weight="bold" fill="#000" style="stroke:#000">D</text>
<text x="281.20" y="232.90" font-size="8.3">PRP</text>
<text x="335.95" y="243.60" font-size="6.6" text-anchor="middle">DMSO</text>
<line x1="320.40" y1="246.60" x2="351.50" y2="246.60" stroke="#231f20" stroke-width="0.9"/>
<text x="372.90" y="243.60" font-size="6.6" text-anchor="middle">Pom</text>
<line x1="357.30" y1="246.60" x2="388.50" y2="246.60" stroke="#231f20" stroke-width="0.9"/>
<text x="409.80" y="243.60" font-size="6.6" text-anchor="middle">NAE</text>
<line x1="394.20" y1="246.60" x2="425.40" y2="246.60" stroke="#231f20" stroke-width="0.9"/>
<text x="311.50" y="254.60" font-size="6.7" text-anchor="end">DD-04-15:</text>
<text x="327.00" y="254.60" font-size="6.3" text-anchor="middle">−</text>
<text x="343.60" y="255.00" font-size="6.3" text-anchor="middle">+</text>
<text x="363.00" y="254.60" font-size="6.3" text-anchor="middle">−</text>
<text x="381.00" y="255.00" font-size="6.3" text-anchor="middle">+</text>
<text x="399.00" y="254.60" font-size="6.3" text-anchor="middle">−</text>
<text x="416.50" y="255.00" font-size="6.3" text-anchor="middle">+</text>
<text x="311.50" y="265.20" font-size="6.4" text-anchor="end">BTK</text>
<text x="311.50" y="280.30" font-size="6.4" text-anchor="end">Talin</text>
<rect x="314.80" y="258.80" width="111.10" height="9.80" fill="#d6d6d6" stroke="#1e1e1e" stroke-width="1.2" />
<rect x="320.65" y="264.00" width="13.50" height="2.20" rx="1.10" fill="#111" opacity="0.85" filter="url(#bl)"/>
<rect x="356.00" y="263.90" width="13.00" height="2.20" rx="1.10" fill="#111" opacity="0.85" filter="url(#bl)"/>
<rect x="372.60" y="263.60" width="14.00" height="1.80" rx="0.90" fill="#111" opacity="0.55" filter="url(#bl)"/>
<rect x="391.65" y="262.30" width="13.50" height="2.20" rx="1.10" fill="#111" opacity="0.85" filter="url(#bl)" transform="rotate(-3 398.40 263.40)"/>
<rect x="409.75" y="261.60" width="13.50" height="2.00" rx="1.00" fill="#111" opacity="0.80" filter="url(#bl)" transform="rotate(-3 416.50 262.60)"/>
<rect x="314.80" y="273.30" width="111.10" height="10.30" fill="#d8d8d8" stroke="#1e1e1e" stroke-width="1.2" />
<rect x="320.25" y="277.90" width="13.50" height="2.20" rx="1.10" fill="#111" opacity="0.80" filter="url(#bl)"/>
<rect x="336.85" y="277.90" width="13.50" height="2.20" rx="1.10" fill="#111" opacity="0.80" filter="url(#bl)"/>
<rect x="356.25" y="277.90" width="13.50" height="2.20" rx="1.10" fill="#111" opacity="0.80" filter="url(#bl)"/>
<rect x="374.25" y="277.90" width="13.50" height="2.20" rx="1.10" fill="#111" opacity="0.80" filter="url(#bl)"/>
<rect x="392.25" y="277.90" width="13.50" height="2.20" rx="1.10" fill="#111" opacity="0.80" filter="url(#bl)"/>
<rect x="409.75" y="277.90" width="13.50" height="2.20" rx="1.10" fill="#111" opacity="0.80" filter="url(#bl)"/>
<text x="334.00" y="304.20" font-size="6.6" text-anchor="middle">DMSO</text>
<line x1="318.00" y1="307.40" x2="350.00" y2="307.40" stroke="#231f20" stroke-width="0.9"/>
<text x="370.30" y="304.20" font-size="6.6" text-anchor="middle">Pom</text>
<line x1="354.90" y1="307.40" x2="385.70" y2="307.40" stroke="#231f20" stroke-width="0.9"/>
<text x="407.45" y="304.20" font-size="6.6" text-anchor="middle">NAE</text>
<line x1="392.30" y1="307.40" x2="422.60" y2="307.40" stroke="#231f20" stroke-width="0.9"/>
<text x="312.30" y="315.40" font-size="6.7" text-anchor="end">DD-03-171:</text>
<text x="324.60" y="315.80" font-size="6.3" text-anchor="middle">−</text>
<text x="341.50" y="315.80" font-size="6.3" text-anchor="middle">+</text>
<text x="361.00" y="315.80" font-size="6.3" text-anchor="middle">−</text>
<text x="379.20" y="315.80" font-size="6.3" text-anchor="middle">+</text>
<text x="399.00" y="315.80" font-size="6.3" text-anchor="middle">−</text>
<text x="416.20" y="315.80" font-size="6.3" text-anchor="middle">+</text>
<text x="311.50" y="325.40" font-size="6.4" text-anchor="end">BTK</text>
<text x="311.50" y="340.50" font-size="6.4" text-anchor="end">Talin</text>
<rect x="314.80" y="318.00" width="108.10" height="10.20" fill="#d4d4d4" stroke="#1e1e1e" stroke-width="1.2" />
<rect x="315.75" y="323.55" width="13.50" height="2.30" rx="1.15" fill="#111" opacity="0.85" filter="url(#bl)"/>
<rect x="334.75" y="323.30" width="13.50" height="2.20" rx="1.10" fill="#111" opacity="0.15" filter="url(#bl)"/>
<rect x="354.05" y="322.45" width="13.50" height="2.30" rx="1.15" fill="#111" opacity="0.85" filter="url(#bl)"/>
<rect x="371.70" y="322.05" width="14.00" height="2.30" rx="1.15" fill="#111" opacity="0.80" filter="url(#bl)"/>
<rect x="389.35" y="321.55" width="13.50" height="2.30" rx="1.15" fill="#111" opacity="0.85" filter="url(#bl)"/>
<rect x="406.45" y="322.05" width="13.50" height="2.10" rx="1.05" fill="#111" opacity="0.70" filter="url(#bl)"/>
<rect x="314.80" y="332.60" width="108.10" height="8.40" fill="#cccccc" stroke="#1e1e1e" stroke-width="1.2" />
<rect x="318.10" y="335.70" width="15.00" height="2.80" rx="1.40" fill="#111" opacity="0.90" filter="url(#bl)"/>
<rect x="334.90" y="335.70" width="15.00" height="2.80" rx="1.40" fill="#111" opacity="0.90" filter="url(#bl)"/>
<rect x="354.20" y="335.70" width="15.00" height="2.80" rx="1.40" fill="#111" opacity="0.90" filter="url(#bl)"/>
<rect x="372.00" y="335.70" width="15.00" height="2.80" rx="1.40" fill="#111" opacity="0.90" filter="url(#bl)"/>
<rect x="389.20" y="335.70" width="15.00" height="2.80" rx="1.40" fill="#111" opacity="0.90" filter="url(#bl)"/>
<rect x="406.80" y="335.70" width="15.00" height="2.80" rx="1.40" fill="#111" opacity="0.90" filter="url(#bl)"/>
<text x="0.10" y="387.70" font-size="11.6" font-weight="bold" fill="#000" style="stroke:#000">E</text>
<circle cx="65.30" cy="384.0" r="2.4" fill="#8a8c99"/>
<text x="69.90" y="386.40" font-size="6.3">NS</text>
<circle cx="65.30" cy="394.5" r="2.4" fill="#767ea0"/>
<text x="70.90" y="396.9" font-size="6.3"><tspan font-style="italic">P</tspan>-value</text>
<circle cx="97.80" cy="384.0" r="2.4" fill="#a9d6a0"/>
<text x="103.40" y="386.4" font-size="6.3">Log<tspan font-size="4.2" dy="1.3">2</tspan><tspan dy="-1.3"> FC</tspan></text>
<circle cx="97.80" cy="394.5" r="2.4" fill="#e2897a"/>
<text x="104.00" y="396.9" font-size="6.3"><tspan font-style="italic">P</tspan>-value and log<tspan font-size="4.2" dy="1.3">2</tspan><tspan dy="-1.3"> FC</tspan></text>
<line x1="46.20" y1="413.00" x2="46.20" y2="482.20" stroke="#231f20" stroke-width="1.3"/>
<line x1="43.60" y1="478.80" x2="46.20" y2="478.80" stroke="#231f20" stroke-width="1.1"/>
<text x="39.90" y="481.00" font-size="6.4" text-anchor="end">0</text>
<line x1="43.60" y1="460.70" x2="46.20" y2="460.70" stroke="#231f20" stroke-width="1.1"/>
<text x="39.90" y="462.90" font-size="6.4" text-anchor="end">2</text>
<line x1="43.60" y1="442.60" x2="46.20" y2="442.60" stroke="#231f20" stroke-width="1.1"/>
<text x="39.90" y="444.80" font-size="6.4" text-anchor="end">4</text>
<line x1="43.60" y1="424.50" x2="46.20" y2="424.50" stroke="#231f20" stroke-width="1.1"/>
<text x="39.90" y="426.70" font-size="6.4" text-anchor="end">6</text>
<line x1="45.60" y1="481.70" x2="176.50" y2="481.70" stroke="#231f20" stroke-width="1.3"/>
<line x1="52.00" y1="481.70" x2="52.00" y2="484.60" stroke="#231f20" stroke-width="1.1"/>
<text x="52.30" y="494.20" font-size="6.3" text-anchor="middle">−4</text>
<line x1="81.60" y1="481.70" x2="81.60" y2="484.60" stroke="#231f20" stroke-width="1.1"/>
<text x="81.90" y="494.20" font-size="6.3" text-anchor="middle">−2</text>
<line x1="111.20" y1="481.70" x2="111.20" y2="484.60" stroke="#231f20" stroke-width="1.1"/>
<text x="111.50" y="494.20" font-size="6.3" text-anchor="middle">0</text>
<line x1="140.80" y1="481.70" x2="140.80" y2="484.60" stroke="#231f20" stroke-width="1.1"/>
<text x="141.10" y="494.20" font-size="6.3" text-anchor="middle">2</text>
<line x1="170.40" y1="481.70" x2="170.40" y2="484.60" stroke="#231f20" stroke-width="1.1"/>
<text x="170.70" y="494.20" font-size="6.3" text-anchor="middle">4</text>
<line x1="81.60" y1="413.00" x2="81.60" y2="481.00" stroke="#666" stroke-width="0.6" stroke-dasharray="1,1"/>
<line x1="140.80" y1="413.00" x2="140.80" y2="481.00" stroke="#666" stroke-width="0.6" stroke-dasharray="1,1"/>
<line x1="46.20" y1="467.00" x2="176.50" y2="467.00" stroke="#444" stroke-width="0.6" stroke-dasharray="1.2,0.9"/>
<text x="79.30" y="411.00" font-size="6.6">−75%</text>
<text x="27.20" y="447.6" font-size="7.4" text-anchor="middle" textLength="43" lengthAdjust="spacingAndGlyphs" transform="rotate(-90 27.20 447.6)">−Log<tspan font-size="4.6" dy="1.4">10</tspan><tspan dy="-1.4">(</tspan><tspan font-style="italic">P</tspan>-value)</text>
<text x="59.90" y="506.4" font-size="8.0" textLength="103.30" lengthAdjust="spacingAndGlyphs">Log<tspan font-size="4.8" dy="1.5">2</tspan><tspan dy="-1.5"> fold change (TL12-186 vs DMSO)</tspan></text>
<circle cx="231.00" cy="384.0" r="2.4" fill="#8a8c99"/>
<text x="235.60" y="386.40" font-size="6.3">NS</text>
<circle cx="231.00" cy="394.5" r="2.4" fill="#767ea0"/>
<text x="236.60" y="396.9" font-size="6.3"><tspan font-style="italic">P</tspan>-value</text>
<circle cx="264.60" cy="384.0" r="2.4" fill="#a9d6a0"/>
<text x="270.20" y="386.4" font-size="6.3">Log<tspan font-size="4.2" dy="1.3">2</tspan><tspan dy="-1.3"> FC</tspan></text>
<circle cx="264.60" cy="394.5" r="2.4" fill="#e2897a"/>
<text x="270.80" y="396.9" font-size="6.3"><tspan font-style="italic">P</tspan>-value and log<tspan font-size="4.2" dy="1.3">2</tspan><tspan dy="-1.3"> FC</tspan></text>
<line x1="211.20" y1="412.00" x2="211.20" y2="482.20" stroke="#231f20" stroke-width="1.3"/>
<line x1="208.60" y1="478.80" x2="211.20" y2="478.80" stroke="#231f20" stroke-width="1.1"/>
<text x="204.90" y="481.00" font-size="6.4" text-anchor="end">0</text>
<line x1="208.60" y1="460.40" x2="211.20" y2="460.40" stroke="#231f20" stroke-width="1.1"/>
<text x="204.90" y="462.60" font-size="6.4" text-anchor="end">2</text>
<line x1="208.60" y1="442.00" x2="211.20" y2="442.00" stroke="#231f20" stroke-width="1.1"/>
<text x="204.90" y="444.20" font-size="6.4" text-anchor="end">4</text>
<line x1="208.60" y1="423.60" x2="211.20" y2="423.60" stroke="#231f20" stroke-width="1.1"/>
<text x="204.90" y="425.80" font-size="6.4" text-anchor="end">6</text>
<line x1="210.60" y1="481.70" x2="344.40" y2="481.70" stroke="#231f20" stroke-width="1.3"/>
<line x1="216.90" y1="481.70" x2="216.90" y2="484.60" stroke="#231f20" stroke-width="1.1"/>
<text x="217.20" y="494.20" font-size="6.3" text-anchor="middle">−4</text>
<line x1="247.25" y1="481.70" x2="247.25" y2="484.60" stroke="#231f20" stroke-width="1.1"/>
<text x="247.55" y="494.20" font-size="6.3" text-anchor="middle">−2</text>
<line x1="277.60" y1="481.70" x2="277.60" y2="484.60" stroke="#231f20" stroke-width="1.1"/>
<text x="277.90" y="494.20" font-size="6.3" text-anchor="middle">0</text>
<line x1="307.95" y1="481.70" x2="307.95" y2="484.60" stroke="#231f20" stroke-width="1.1"/>
<text x="308.25" y="494.20" font-size="6.3" text-anchor="middle">2</text>
<line x1="338.30" y1="481.70" x2="338.30" y2="484.60" stroke="#231f20" stroke-width="1.1"/>
<text x="338.60" y="494.20" font-size="6.3" text-anchor="middle">4</text>
<line x1="247.25" y1="412.00" x2="247.25" y2="481.00" stroke="#666" stroke-width="0.6" stroke-dasharray="1,1"/>
<line x1="307.95" y1="412.00" x2="307.95" y2="481.00" stroke="#666" stroke-width="0.6" stroke-dasharray="1,1"/>
<line x1="211.20" y1="467.00" x2="344.40" y2="467.00" stroke="#444" stroke-width="0.6" stroke-dasharray="1.2,0.9"/>
<text x="244.95" y="411.00" font-size="6.6">−75%</text>
<text x="191.60" y="447.6" font-size="7.4" text-anchor="middle" textLength="43" lengthAdjust="spacingAndGlyphs" transform="rotate(-90 191.60 447.6)">−Log<tspan font-size="4.6" dy="1.4">10</tspan><tspan dy="-1.4">(</tspan><tspan font-style="italic">P</tspan>-value)</text>
<text x="223.30" y="506.4" font-size="8.0" textLength="108.40" lengthAdjust="spacingAndGlyphs">Log<tspan font-size="4.8" dy="1.5">2</tspan><tspan dy="-1.5"> fold change (DD-04-015 vs DMSO)</tspan></text>
<circle cx="400.00" cy="384.0" r="2.4" fill="#8a8c99"/>
<text x="404.60" y="386.40" font-size="6.3">NS</text>
<circle cx="400.00" cy="394.5" r="2.4" fill="#767ea0"/>
<text x="405.60" y="396.9" font-size="6.3"><tspan font-style="italic">P</tspan>-value</text>
<circle cx="433.30" cy="384.0" r="2.4" fill="#a9d6a0"/>
<text x="438.90" y="386.4" font-size="6.3">Log<tspan font-size="4.2" dy="1.3">2</tspan><tspan dy="-1.3"> FC</tspan></text>
<circle cx="433.30" cy="394.5" r="2.4" fill="#e2897a"/>
<text x="439.50" y="396.9" font-size="6.3"><tspan font-style="italic">P</tspan>-value and log<tspan font-size="4.2" dy="1.3">2</tspan><tspan dy="-1.3"> FC</tspan></text>
<line x1="379.20" y1="410.50" x2="379.20" y2="482.20" stroke="#231f20" stroke-width="1.3"/>
<line x1="376.60" y1="478.60" x2="379.20" y2="478.60" stroke="#231f20" stroke-width="1.1"/>
<text x="372.90" y="480.80" font-size="6.4" text-anchor="end">0</text>
<line x1="376.60" y1="460.00" x2="379.20" y2="460.00" stroke="#231f20" stroke-width="1.1"/>
<text x="372.90" y="462.20" font-size="6.4" text-anchor="end">2</text>
<line x1="376.60" y1="441.40" x2="379.20" y2="441.40" stroke="#231f20" stroke-width="1.1"/>
<text x="372.90" y="443.60" font-size="6.4" text-anchor="end">4</text>
<line x1="376.60" y1="422.80" x2="379.20" y2="422.80" stroke="#231f20" stroke-width="1.1"/>
<text x="372.90" y="425.00" font-size="6.4" text-anchor="end">6</text>
<line x1="378.60" y1="481.70" x2="513.80" y2="481.70" stroke="#231f20" stroke-width="1.3"/>
<line x1="385.20" y1="481.70" x2="385.20" y2="484.60" stroke="#231f20" stroke-width="1.1"/>
<text x="385.50" y="494.20" font-size="6.3" text-anchor="middle">−4</text>
<line x1="415.70" y1="481.70" x2="415.70" y2="484.60" stroke="#231f20" stroke-width="1.1"/>
<text x="416.00" y="494.20" font-size="6.3" text-anchor="middle">−2</text>
<line x1="446.20" y1="481.70" x2="446.20" y2="484.60" stroke="#231f20" stroke-width="1.1"/>
<text x="446.50" y="494.20" font-size="6.3" text-anchor="middle">0</text>
<line x1="476.70" y1="481.70" x2="476.70" y2="484.60" stroke="#231f20" stroke-width="1.1"/>
<text x="477.00" y="494.20" font-size="6.3" text-anchor="middle">2</text>
<line x1="507.20" y1="481.70" x2="507.20" y2="484.60" stroke="#231f20" stroke-width="1.1"/>
<text x="507.50" y="494.20" font-size="6.3" text-anchor="middle">4</text>
<line x1="415.70" y1="410.50" x2="415.70" y2="481.00" stroke="#666" stroke-width="0.6" stroke-dasharray="1,1"/>
<line x1="476.70" y1="410.50" x2="476.70" y2="481.00" stroke="#666" stroke-width="0.6" stroke-dasharray="1,1"/>
<line x1="379.20" y1="467.00" x2="513.80" y2="467.00" stroke="#444" stroke-width="0.6" stroke-dasharray="1.2,0.9"/>
<text x="413.40" y="411.00" font-size="6.6">−75%</text>
<text x="360.80" y="447.6" font-size="7.4" text-anchor="middle" textLength="43" lengthAdjust="spacingAndGlyphs" transform="rotate(-90 360.80 447.6)">−Log<tspan font-size="4.6" dy="1.4">10</tspan><tspan dy="-1.4">(</tspan><tspan font-style="italic">P</tspan>-value)</text>
<text x="383.30" y="506.4" font-size="8.0" textLength="126.50" lengthAdjust="spacingAndGlyphs">Mean Log<tspan font-size="4.8" dy="1.5">2</tspan><tspan dy="-1.5"> fold change (DD-03-171 vs DMSO)</tspan></text>
<text x="50.80" y="439.60" font-size="5.3">BTK</text>
<circle cx="54.2" cy="441.5" r="0.7" fill="#777"/>
<text x="75.30" y="444.40" font-size="5.3" text-anchor="end">FAK</text>
<circle cx="78.3" cy="443.4" r="0.7" fill="#777"/>
<text x="75.30" y="451.90" font-size="5.3" text-anchor="end">PYK2</text>
<circle cx="78.6" cy="449.6" r="0.6" fill="#e05060"/>
<text x="75.30" y="458.30" font-size="5.3" text-anchor="end">FER</text>
<circle cx="78.6" cy="455.0" r="0.6" fill="#e05060"/>
<text x="83.80" y="453.60" font-size="5.3" fill="#55607a" style="stroke:#55607a">TEC</text>
<circle cx="88.5" cy="455.0" r="0.7" fill="#777"/>
<text x="222.00" y="447.60" font-size="5.2">BTK</text>
<circle cx="227.7" cy="451.0" r="0.7" fill="#777"/>
<text x="249.60" y="462.00" font-size="5.2">TEC</text>
<circle cx="251.2" cy="464.4" r="0.7" fill="#777"/>
<text x="384.20" y="416.40" font-size="5.2">BTK</text>
<circle cx="389.4" cy="419.6" r="0.7" fill="#777"/>
<text x="418.00" y="447.70" font-size="5.2">TEC</text>
<circle cx="418.8" cy="451.0" r="0.7" fill="#777"/>
<path d="M111.7 454.2h1.1v1.1h-1.1zM110.8 458.7h1.1v1.1h-1.1zM111.9 454.8h1.1v1.1h-1.1zM111.2 451.7h1.1v1.1h-1.1zM114.0 455.9h1.1v1.1h-1.1zM109.9 450.8h1.1v1.1h-1.1zM113.2 450.8h1.1v1.1h-1.1zM106.5 456.5h1.1v1.1h-1.1zM116.7 459.3h1.1v1.1h-1.1zM112.3 456.2h1.1v1.1h-1.1zM107.8 451.4h1.1v1.1h-1.1zM107.1 455.0h1.1v1.1h-1.1zM109.3 451.8h1.1v1.1h-1.1zM110.9 450.2h1.1v1.1h-1.1zM114.1 454.1h1.1v1.1h-1.1zM112.4 454.9h1.1v1.1h-1.1zM112.6 454.7h1.1v1.1h-1.1zM109.2 454.3h1.1v1.1h-1.1zM117.1 459.4h1.1v1.1h-1.1zM113.4 457.9h1.1v1.1h-1.1zM109.0 452.9h1.1v1.1h-1.1zM107.8 452.7h1.1v1.1h-1.1zM110.1 457.2h1.1v1.1h-1.1zM109.9 458.0h1.1v1.1h-1.1zM115.2 459.1h1.1v1.1h-1.1zM109.4 450.0h1.1v1.1h-1.1zM110.8 458.6h1.1v1.1h-1.1zM109.9 459.3h1.1v1.1h-1.1zM112.0 450.6h1.1v1.1h-1.1zM108.7 457.3h1.1v1.1h-1.1zM110.1 450.8h1.1v1.1h-1.1zM114.2 459.1h1.1v1.1h-1.1zM109.4 451.1h1.1v1.1h-1.1zM108.2 450.9h1.1v1.1h-1.1zM107.7 457.5h1.1v1.1h-1.1zM110.7 455.3h1.1v1.1h-1.1zM112.8 451.8h1.1v1.1h-1.1zM112.1 451.2h1.1v1.1h-1.1zM110.6 451.1h1.1v1.1h-1.1zM109.5 452.0h1.1v1.1h-1.1zM114.7 459.2h1.1v1.1h-1.1zM114.2 452.8h1.1v1.1h-1.1zM110.4 452.0h1.1v1.1h-1.1zM112.7 458.1h1.1v1.1h-1.1zM114.4 450.9h1.1v1.1h-1.1zM109.4 452.0h1.1v1.1h-1.1zM109.3 457.3h1.1v1.1h-1.1zM107.8 452.8h1.1v1.1h-1.1zM111.7 450.8h1.1v1.1h-1.1zM111.9 452.3h1.1v1.1h-1.1zM110.8 453.5h1.1v1.1h-1.1zM111.0 459.1h1.1v1.1h-1.1zM114.6 455.4h1.1v1.1h-1.1zM108.7 451.7h1.1v1.1h-1.1zM114.8 458.6h1.1v1.1h-1.1zM108.8 452.3h1.1v1.1h-1.1zM115.7 457.0h1.1v1.1h-1.1zM114.4 451.8h1.1v1.1h-1.1zM112.3 458.3h1.1v1.1h-1.1zM107.8 454.0h1.1v1.1h-1.1zM114.0 450.3h1.1v1.1h-1.1zM112.7 452.2h1.1v1.1h-1.1zM113.6 452.4h1.1v1.1h-1.1zM109.2 455.6h1.1v1.1h-1.1zM112.7 451.6h1.1v1.1h-1.1zM109.4 450.6h1.1v1.1h-1.1zM114.4 455.3h1.1v1.1h-1.1zM109.0 455.8h1.1v1.1h-1.1zM107.7 458.7h1.1v1.1h-1.1zM109.7 450.1h1.1v1.1h-1.1zM107.3 454.2h1.1v1.1h-1.1zM110.2 451.6h1.1v1.1h-1.1zM107.7 455.4h1.1v1.1h-1.1zM114.3 453.4h1.1v1.1h-1.1zM113.0 459.3h1.1v1.1h-1.1zM112.0 456.5h1.1v1.1h-1.1zM108.0 451.3h1.1v1.1h-1.1zM113.7 450.1h1.1v1.1h-1.1zM115.9 456.6h1.1v1.1h-1.1zM112.0 450.2h1.1v1.1h-1.1zM113.2 454.5h1.1v1.1h-1.1zM115.1 453.0h1.1v1.1h-1.1zM111.4 450.7h1.1v1.1h-1.1zM115.3 457.0h1.1v1.1h-1.1zM113.3 457.0h1.1v1.1h-1.1zM115.6 457.5h1.1v1.1h-1.1zM112.7 453.3h1.1v1.1h-1.1zM115.4 458.5h1.1v1.1h-1.1zM113.6 453.9h1.1v1.1h-1.1zM112.0 458.2h1.1v1.1h-1.1zM110.0 455.9h1.1v1.1h-1.1zM112.2 455.5h1.1v1.1h-1.1zM112.1 450.7h1.1v1.1h-1.1zM115.7 459.4h1.1v1.1h-1.1zM110.0 456.9h1.1v1.1h-1.1zM112.0 456.9h1.1v1.1h-1.1zM114.1 454.1h1.1v1.1h-1.1zM112.8 450.7h1.1v1.1h-1.1zM111.8 450.2h1.1v1.1h-1.1zM108.8 454.5h1.1v1.1h-1.1zM111.1 456.6h1.1v1.1h-1.1zM115.2 455.8h1.1v1.1h-1.1zM107.5 452.4h1.1v1.1h-1.1zM112.5 452.8h1.1v1.1h-1.1zM108.8 451.9h1.1v1.1h-1.1zM113.0 458.6h1.1v1.1h-1.1zM114.5 454.1h1.1v1.1h-1.1zM112.5 453.1h1.1v1.1h-1.1zM110.7 451.8h1.1v1.1h-1.1zM115.6 457.6h1.1v1.1h-1.1z" fill="#1d4f8f" opacity="0.85"/>
<path d="M109.0 465.3h1.15v1.15h-1.15zM108.1 462.7h1.15v1.15h-1.15zM110.6 458.7h1.15v1.15h-1.15zM115.5 465.0h1.15v1.15h-1.15zM116.8 463.8h1.15v1.15h-1.15zM106.3 459.9h1.15v1.15h-1.15zM107.6 461.5h1.15v1.15h-1.15zM109.5 459.4h1.15v1.15h-1.15zM110.5 463.1h1.15v1.15h-1.15zM115.0 460.3h1.15v1.15h-1.15zM109.9 466.3h1.15v1.15h-1.15zM104.7 458.1h1.15v1.15h-1.15zM104.1 465.3h1.15v1.15h-1.15zM111.6 463.8h1.15v1.15h-1.15zM114.4 460.2h1.15v1.15h-1.15zM106.1 457.6h1.15v1.15h-1.15zM104.3 461.5h1.15v1.15h-1.15zM106.9 464.9h1.15v1.15h-1.15zM104.9 458.7h1.15v1.15h-1.15zM109.9 463.1h1.15v1.15h-1.15zM112.7 463.1h1.15v1.15h-1.15zM117.1 464.7h1.15v1.15h-1.15zM106.5 463.6h1.15v1.15h-1.15zM106.3 461.7h1.15v1.15h-1.15zM110.3 457.5h1.15v1.15h-1.15zM106.2 463.9h1.15v1.15h-1.15zM108.6 459.9h1.15v1.15h-1.15zM110.9 463.7h1.15v1.15h-1.15zM114.1 463.0h1.15v1.15h-1.15zM114.5 461.0h1.15v1.15h-1.15zM104.8 465.6h1.15v1.15h-1.15zM113.8 465.8h1.15v1.15h-1.15zM110.0 458.6h1.15v1.15h-1.15zM116.2 463.1h1.15v1.15h-1.15zM111.5 460.8h1.15v1.15h-1.15zM114.8 465.3h1.15v1.15h-1.15zM110.1 465.9h1.15v1.15h-1.15zM106.6 463.3h1.15v1.15h-1.15zM115.0 463.9h1.15v1.15h-1.15zM113.6 463.2h1.15v1.15h-1.15zM115.8 459.3h1.15v1.15h-1.15zM117.5 466.2h1.15v1.15h-1.15zM114.5 462.3h1.15v1.15h-1.15zM116.0 460.3h1.15v1.15h-1.15zM108.5 465.1h1.15v1.15h-1.15zM109.9 458.2h1.15v1.15h-1.15zM114.2 462.4h1.15v1.15h-1.15zM104.3 461.8h1.15v1.15h-1.15zM104.5 464.7h1.15v1.15h-1.15zM106.0 464.6h1.15v1.15h-1.15zM114.4 460.4h1.15v1.15h-1.15zM106.2 458.7h1.15v1.15h-1.15zM113.6 462.1h1.15v1.15h-1.15zM113.3 465.0h1.15v1.15h-1.15zM110.5 465.9h1.15v1.15h-1.15zM104.7 466.0h1.15v1.15h-1.15zM111.0 459.4h1.15v1.15h-1.15zM113.6 460.0h1.15v1.15h-1.15zM110.9 463.2h1.15v1.15h-1.15zM111.5 465.0h1.15v1.15h-1.15zM109.1 460.2h1.15v1.15h-1.15zM116.3 465.0h1.15v1.15h-1.15zM115.1 459.3h1.15v1.15h-1.15zM111.0 466.1h1.15v1.15h-1.15zM106.6 462.6h1.15v1.15h-1.15zM110.7 462.2h1.15v1.15h-1.15zM104.2 462.9h1.15v1.15h-1.15zM110.9 466.1h1.15v1.15h-1.15zM114.6 461.0h1.15v1.15h-1.15zM110.5 462.5h1.15v1.15h-1.15zM104.6 463.6h1.15v1.15h-1.15zM109.5 462.3h1.15v1.15h-1.15zM116.7 466.0h1.15v1.15h-1.15zM110.3 459.8h1.15v1.15h-1.15zM109.8 458.6h1.15v1.15h-1.15zM116.2 464.8h1.15v1.15h-1.15zM108.2 461.7h1.15v1.15h-1.15zM112.1 459.1h1.15v1.15h-1.15zM105.3 465.8h1.15v1.15h-1.15zM104.0 464.4h1.15v1.15h-1.15zM107.1 459.2h1.15v1.15h-1.15zM108.2 463.6h1.15v1.15h-1.15zM112.2 460.6h1.15v1.15h-1.15zM113.5 458.4h1.15v1.15h-1.15zM110.8 458.5h1.15v1.15h-1.15zM106.7 459.7h1.15v1.15h-1.15zM109.8 462.2h1.15v1.15h-1.15zM109.5 460.8h1.15v1.15h-1.15zM106.0 462.2h1.15v1.15h-1.15zM112.3 459.3h1.15v1.15h-1.15zM111.0 463.2h1.15v1.15h-1.15zM112.2 465.1h1.15v1.15h-1.15zM106.9 465.1h1.15v1.15h-1.15zM114.9 464.1h1.15v1.15h-1.15zM108.0 465.5h1.15v1.15h-1.15zM116.1 460.3h1.15v1.15h-1.15zM117.0 459.4h1.15v1.15h-1.15zM105.4 465.4h1.15v1.15h-1.15zM113.5 459.6h1.15v1.15h-1.15zM105.4 459.8h1.15v1.15h-1.15zM109.5 464.9h1.15v1.15h-1.15zM105.4 464.5h1.15v1.15h-1.15zM113.1 461.1h1.15v1.15h-1.15zM106.9 457.6h1.15v1.15h-1.15zM116.3 463.6h1.15v1.15h-1.15zM105.1 466.1h1.15v1.15h-1.15zM114.1 462.0h1.15v1.15h-1.15zM113.1 462.0h1.15v1.15h-1.15zM105.1 459.1h1.15v1.15h-1.15zM104.8 458.4h1.15v1.15h-1.15zM110.8 462.4h1.15v1.15h-1.15zM105.8 462.5h1.15v1.15h-1.15zM106.8 459.1h1.15v1.15h-1.15zM117.5 465.0h1.15v1.15h-1.15zM104.9 465.8h1.15v1.15h-1.15zM116.3 458.0h1.15v1.15h-1.15zM114.2 461.6h1.15v1.15h-1.15zM110.2 460.4h1.15v1.15h-1.15zM109.7 462.1h1.15v1.15h-1.15zM104.0 462.8h1.15v1.15h-1.15zM115.4 463.7h1.15v1.15h-1.15zM110.0 459.1h1.15v1.15h-1.15zM109.3 464.1h1.15v1.15h-1.15zM106.3 459.2h1.15v1.15h-1.15zM104.1 462.0h1.15v1.15h-1.15zM114.9 465.5h1.15v1.15h-1.15zM115.6 463.8h1.15v1.15h-1.15zM109.3 463.1h1.15v1.15h-1.15zM110.7 462.8h1.15v1.15h-1.15zM115.0 466.3h1.15v1.15h-1.15zM115.9 459.7h1.15v1.15h-1.15zM114.5 464.1h1.15v1.15h-1.15zM109.3 464.8h1.15v1.15h-1.15zM116.0 465.5h1.15v1.15h-1.15zM114.3 463.7h1.15v1.15h-1.15zM109.3 464.3h1.15v1.15h-1.15zM104.7 463.9h1.15v1.15h-1.15zM110.2 460.5h1.15v1.15h-1.15zM108.8 457.5h1.15v1.15h-1.15zM112.3 463.2h1.15v1.15h-1.15zM116.3 459.5h1.15v1.15h-1.15zM108.4 463.4h1.15v1.15h-1.15zM111.6 463.4h1.15v1.15h-1.15zM109.1 462.2h1.15v1.15h-1.15zM112.7 466.4h1.15v1.15h-1.15zM114.2 463.7h1.15v1.15h-1.15zM103.8 466.2h1.15v1.15h-1.15zM113.9 463.0h1.15v1.15h-1.15zM109.4 459.7h1.15v1.15h-1.15zM106.8 457.9h1.15v1.15h-1.15zM105.3 460.8h1.15v1.15h-1.15zM115.9 459.7h1.15v1.15h-1.15zM110.7 462.4h1.15v1.15h-1.15zM111.6 466.1h1.15v1.15h-1.15zM112.6 466.4h1.15v1.15h-1.15zM104.7 464.7h1.15v1.15h-1.15zM114.1 462.8h1.15v1.15h-1.15zM116.0 457.8h1.15v1.15h-1.15zM110.3 458.9h1.15v1.15h-1.15zM110.6 458.9h1.15v1.15h-1.15zM104.6 462.9h1.15v1.15h-1.15zM109.5 465.9h1.15v1.15h-1.15zM111.9 462.2h1.15v1.15h-1.15zM107.8 460.7h1.15v1.15h-1.15zM111.5 463.3h1.15v1.15h-1.15zM113.4 460.0h1.15v1.15h-1.15zM104.3 460.1h1.15v1.15h-1.15zM104.7 459.6h1.15v1.15h-1.15zM113.9 458.8h1.15v1.15h-1.15zM115.9 460.9h1.15v1.15h-1.15zM104.4 464.2h1.15v1.15h-1.15zM117.0 466.3h1.15v1.15h-1.15zM115.7 458.1h1.15v1.15h-1.15zM110.3 461.3h1.15v1.15h-1.15zM106.9 466.2h1.15v1.15h-1.15zM116.5 462.1h1.15v1.15h-1.15zM110.2 463.9h1.15v1.15h-1.15zM115.2 466.2h1.15v1.15h-1.15zM105.4 462.9h1.15v1.15h-1.15zM110.0 463.0h1.15v1.15h-1.15zM104.9 459.3h1.15v1.15h-1.15zM105.6 462.2h1.15v1.15h-1.15zM112.9 461.4h1.15v1.15h-1.15zM107.5 461.5h1.15v1.15h-1.15zM109.5 462.7h1.15v1.15h-1.15zM111.1 464.4h1.15v1.15h-1.15zM117.1 466.4h1.15v1.15h-1.15zM107.0 464.0h1.15v1.15h-1.15zM115.6 458.4h1.15v1.15h-1.15zM112.4 464.5h1.15v1.15h-1.15zM107.6 460.7h1.15v1.15h-1.15zM111.5 463.6h1.15v1.15h-1.15zM112.4 462.8h1.15v1.15h-1.15zM106.3 464.2h1.15v1.15h-1.15zM116.8 459.7h1.15v1.15h-1.15zM116.0 465.7h1.15v1.15h-1.15zM105.1 457.8h1.15v1.15h-1.15zM109.7 459.9h1.15v1.15h-1.15zM105.2 463.0h1.15v1.15h-1.15zM104.9 462.3h1.15v1.15h-1.15zM112.8 458.2h1.15v1.15h-1.15zM112.4 462.4h1.15v1.15h-1.15zM110.3 460.8h1.15v1.15h-1.15zM108.6 459.3h1.15v1.15h-1.15zM115.3 464.1h1.15v1.15h-1.15zM105.9 458.1h1.15v1.15h-1.15zM112.4 464.7h1.15v1.15h-1.15zM106.6 464.3h1.15v1.15h-1.15zM107.4 461.2h1.15v1.15h-1.15zM108.8 464.7h1.15v1.15h-1.15zM117.3 463.3h1.15v1.15h-1.15zM111.3 460.4h1.15v1.15h-1.15zM116.5 464.1h1.15v1.15h-1.15zM108.9 461.3h1.15v1.15h-1.15zM115.4 458.3h1.15v1.15h-1.15zM105.4 458.1h1.15v1.15h-1.15zM110.4 462.5h1.15v1.15h-1.15zM107.9 463.6h1.15v1.15h-1.15zM104.7 464.4h1.15v1.15h-1.15zM112.7 459.3h1.15v1.15h-1.15zM108.2 458.2h1.15v1.15h-1.15zM113.3 463.9h1.15v1.15h-1.15zM106.0 460.0h1.15v1.15h-1.15zM113.6 460.6h1.15v1.15h-1.15zM105.6 460.7h1.15v1.15h-1.15zM111.6 463.8h1.15v1.15h-1.15zM116.9 465.7h1.15v1.15h-1.15zM109.7 465.6h1.15v1.15h-1.15zM107.9 464.7h1.15v1.15h-1.15zM109.3 460.3h1.15v1.15h-1.15zM116.3 465.8h1.15v1.15h-1.15zM108.8 459.7h1.15v1.15h-1.15zM108.8 460.7h1.15v1.15h-1.15zM109.1 461.0h1.15v1.15h-1.15zM111.4 459.2h1.15v1.15h-1.15zM111.2 464.6h1.15v1.15h-1.15zM111.5 465.0h1.15v1.15h-1.15zM113.9 459.0h1.15v1.15h-1.15zM107.5 465.4h1.15v1.15h-1.15zM110.8 457.6h1.15v1.15h-1.15zM111.5 462.3h1.15v1.15h-1.15zM112.8 466.1h1.15v1.15h-1.15zM104.5 464.7h1.15v1.15h-1.15zM114.5 462.3h1.15v1.15h-1.15zM105.4 458.2h1.15v1.15h-1.15zM116.2 464.1h1.15v1.15h-1.15zM112.3 458.2h1.15v1.15h-1.15zM113.7 458.7h1.15v1.15h-1.15zM107.1 463.3h1.15v1.15h-1.15zM114.0 459.4h1.15v1.15h-1.15zM114.2 462.1h1.15v1.15h-1.15zM108.5 461.0h1.15v1.15h-1.15zM113.1 466.1h1.15v1.15h-1.15zM111.1 461.9h1.15v1.15h-1.15zM113.5 463.9h1.15v1.15h-1.15zM109.4 465.7h1.15v1.15h-1.15zM113.0 464.9h1.15v1.15h-1.15zM114.9 465.1h1.15v1.15h-1.15zM116.1 464.9h1.15v1.15h-1.15zM112.6 466.0h1.15v1.15h-1.15z" fill="#1d4f8f"/>
<path d="M113.5 472.9h1.15v1.15h-1.15zM109.8 476.3h1.15v1.15h-1.15zM105.5 471.6h1.15v1.15h-1.15zM116.3 475.5h1.15v1.15h-1.15zM105.7 471.0h1.15v1.15h-1.15zM109.4 468.9h1.15v1.15h-1.15zM117.8 470.0h1.15v1.15h-1.15zM107.6 467.2h1.15v1.15h-1.15zM113.0 467.8h1.15v1.15h-1.15zM107.0 476.0h1.15v1.15h-1.15zM110.0 467.2h1.15v1.15h-1.15zM116.1 473.6h1.15v1.15h-1.15zM104.4 466.9h1.15v1.15h-1.15zM106.2 468.7h1.15v1.15h-1.15zM114.0 469.3h1.15v1.15h-1.15zM107.0 473.7h1.15v1.15h-1.15zM107.2 468.7h1.15v1.15h-1.15zM114.7 468.5h1.15v1.15h-1.15zM111.4 470.3h1.15v1.15h-1.15zM110.4 476.5h1.15v1.15h-1.15zM116.6 469.6h1.15v1.15h-1.15zM109.2 477.7h1.15v1.15h-1.15zM116.8 473.2h1.15v1.15h-1.15zM106.7 472.4h1.15v1.15h-1.15zM117.8 467.0h1.15v1.15h-1.15zM109.4 476.3h1.15v1.15h-1.15zM110.8 472.9h1.15v1.15h-1.15zM118.2 469.8h1.15v1.15h-1.15zM107.3 474.5h1.15v1.15h-1.15zM110.2 466.6h1.15v1.15h-1.15zM115.0 471.0h1.15v1.15h-1.15zM111.9 475.2h1.15v1.15h-1.15zM105.2 468.4h1.15v1.15h-1.15zM107.0 470.4h1.15v1.15h-1.15zM110.8 477.1h1.15v1.15h-1.15zM116.9 474.3h1.15v1.15h-1.15zM111.2 469.7h1.15v1.15h-1.15zM114.9 468.3h1.15v1.15h-1.15zM115.8 466.4h1.15v1.15h-1.15zM113.9 476.8h1.15v1.15h-1.15zM107.0 467.4h1.15v1.15h-1.15zM105.8 475.2h1.15v1.15h-1.15zM110.2 472.3h1.15v1.15h-1.15zM111.4 478.2h1.15v1.15h-1.15zM108.6 477.0h1.15v1.15h-1.15zM109.7 476.1h1.15v1.15h-1.15zM106.8 477.7h1.15v1.15h-1.15zM107.6 476.6h1.15v1.15h-1.15zM111.0 473.1h1.15v1.15h-1.15zM115.9 468.4h1.15v1.15h-1.15zM107.7 470.3h1.15v1.15h-1.15zM107.5 467.4h1.15v1.15h-1.15zM113.7 472.2h1.15v1.15h-1.15zM113.4 470.8h1.15v1.15h-1.15zM108.9 467.7h1.15v1.15h-1.15zM117.3 472.1h1.15v1.15h-1.15zM112.2 476.6h1.15v1.15h-1.15zM108.7 466.6h1.15v1.15h-1.15zM107.5 475.2h1.15v1.15h-1.15zM110.1 473.4h1.15v1.15h-1.15zM118.5 466.6h1.15v1.15h-1.15zM107.4 476.3h1.15v1.15h-1.15zM107.9 474.0h1.15v1.15h-1.15zM111.2 471.0h1.15v1.15h-1.15zM108.1 470.1h1.15v1.15h-1.15zM113.1 471.2h1.15v1.15h-1.15zM106.0 469.6h1.15v1.15h-1.15zM108.6 475.4h1.15v1.15h-1.15zM111.2 478.0h1.15v1.15h-1.15zM108.6 475.3h1.15v1.15h-1.15zM106.3 476.6h1.15v1.15h-1.15zM104.2 468.2h1.15v1.15h-1.15zM113.2 474.8h1.15v1.15h-1.15zM109.1 468.6h1.15v1.15h-1.15zM111.6 476.7h1.15v1.15h-1.15zM106.3 467.5h1.15v1.15h-1.15zM104.7 468.4h1.15v1.15h-1.15zM104.4 471.4h1.15v1.15h-1.15zM110.0 477.7h1.15v1.15h-1.15zM112.7 472.7h1.15v1.15h-1.15zM114.3 475.9h1.15v1.15h-1.15zM108.1 471.2h1.15v1.15h-1.15zM103.5 471.5h1.15v1.15h-1.15zM113.6 471.4h1.15v1.15h-1.15zM113.0 478.5h1.15v1.15h-1.15zM112.0 474.5h1.15v1.15h-1.15zM107.9 466.7h1.15v1.15h-1.15zM112.9 470.6h1.15v1.15h-1.15zM108.7 467.7h1.15v1.15h-1.15zM114.6 472.7h1.15v1.15h-1.15zM111.8 476.6h1.15v1.15h-1.15zM114.8 468.4h1.15v1.15h-1.15zM111.1 477.5h1.15v1.15h-1.15zM110.6 470.8h1.15v1.15h-1.15zM114.0 468.2h1.15v1.15h-1.15zM110.8 478.6h1.15v1.15h-1.15zM114.6 475.2h1.15v1.15h-1.15zM117.6 468.9h1.15v1.15h-1.15zM106.7 474.1h1.15v1.15h-1.15zM106.6 467.4h1.15v1.15h-1.15zM113.3 473.5h1.15v1.15h-1.15zM117.1 470.5h1.15v1.15h-1.15zM110.1 470.9h1.15v1.15h-1.15zM118.1 468.0h1.15v1.15h-1.15zM117.0 468.1h1.15v1.15h-1.15zM111.5 473.1h1.15v1.15h-1.15zM107.4 473.3h1.15v1.15h-1.15zM115.2 477.6h1.15v1.15h-1.15zM111.7 476.5h1.15v1.15h-1.15zM115.8 467.9h1.15v1.15h-1.15zM116.7 470.0h1.15v1.15h-1.15zM111.8 469.4h1.15v1.15h-1.15zM107.3 476.6h1.15v1.15h-1.15zM104.9 473.2h1.15v1.15h-1.15zM105.5 466.8h1.15v1.15h-1.15zM114.2 478.6h1.15v1.15h-1.15zM108.2 474.5h1.15v1.15h-1.15zM113.6 474.7h1.15v1.15h-1.15zM112.0 471.1h1.15v1.15h-1.15zM105.4 476.3h1.15v1.15h-1.15zM110.1 468.9h1.15v1.15h-1.15zM108.8 468.2h1.15v1.15h-1.15zM106.3 473.4h1.15v1.15h-1.15zM107.4 472.8h1.15v1.15h-1.15zM108.4 473.4h1.15v1.15h-1.15zM104.8 474.3h1.15v1.15h-1.15zM106.2 474.7h1.15v1.15h-1.15zM111.5 478.2h1.15v1.15h-1.15zM109.4 472.2h1.15v1.15h-1.15zM113.1 474.1h1.15v1.15h-1.15zM113.5 475.7h1.15v1.15h-1.15zM117.6 472.4h1.15v1.15h-1.15zM114.3 476.7h1.15v1.15h-1.15zM109.7 471.5h1.15v1.15h-1.15zM116.1 473.4h1.15v1.15h-1.15zM111.0 472.9h1.15v1.15h-1.15zM116.5 471.7h1.15v1.15h-1.15zM103.9 470.4h1.15v1.15h-1.15zM115.3 475.3h1.15v1.15h-1.15zM111.8 475.4h1.15v1.15h-1.15zM108.4 475.7h1.15v1.15h-1.15zM105.0 473.7h1.15v1.15h-1.15zM109.8 468.0h1.15v1.15h-1.15zM109.2 472.6h1.15v1.15h-1.15zM113.7 467.1h1.15v1.15h-1.15zM107.0 472.9h1.15v1.15h-1.15zM109.0 470.2h1.15v1.15h-1.15zM103.9 469.3h1.15v1.15h-1.15zM115.0 477.6h1.15v1.15h-1.15zM115.2 474.6h1.15v1.15h-1.15zM115.1 471.6h1.15v1.15h-1.15zM114.5 469.2h1.15v1.15h-1.15zM116.0 473.4h1.15v1.15h-1.15zM115.3 467.6h1.15v1.15h-1.15zM111.2 467.9h1.15v1.15h-1.15zM106.2 478.1h1.15v1.15h-1.15zM107.5 469.4h1.15v1.15h-1.15zM104.0 470.4h1.15v1.15h-1.15zM113.7 477.4h1.15v1.15h-1.15zM108.5 471.3h1.15v1.15h-1.15zM104.6 473.6h1.15v1.15h-1.15zM117.0 466.8h1.15v1.15h-1.15zM110.6 470.2h1.15v1.15h-1.15zM114.9 477.9h1.15v1.15h-1.15zM106.5 472.2h1.15v1.15h-1.15zM117.1 470.1h1.15v1.15h-1.15zM107.7 477.5h1.15v1.15h-1.15zM109.1 476.7h1.15v1.15h-1.15zM106.0 472.2h1.15v1.15h-1.15zM115.5 477.2h1.15v1.15h-1.15zM112.7 468.9h1.15v1.15h-1.15zM116.6 468.8h1.15v1.15h-1.15zM104.3 467.0h1.15v1.15h-1.15zM108.4 475.4h1.15v1.15h-1.15zM114.1 477.5h1.15v1.15h-1.15zM106.3 475.2h1.15v1.15h-1.15zM115.9 475.0h1.15v1.15h-1.15zM104.6 471.9h1.15v1.15h-1.15zM107.6 469.2h1.15v1.15h-1.15zM107.0 475.2h1.15v1.15h-1.15zM106.5 468.7h1.15v1.15h-1.15zM114.2 474.6h1.15v1.15h-1.15zM113.0 471.0h1.15v1.15h-1.15zM111.5 477.3h1.15v1.15h-1.15zM107.5 469.2h1.15v1.15h-1.15zM112.1 477.8h1.15v1.15h-1.15zM112.8 469.8h1.15v1.15h-1.15zM118.3 467.5h1.15v1.15h-1.15zM111.0 471.8h1.15v1.15h-1.15zM104.4 473.0h1.15v1.15h-1.15zM107.8 473.8h1.15v1.15h-1.15zM115.3 469.5h1.15v1.15h-1.15zM107.2 467.5h1.15v1.15h-1.15zM107.7 475.7h1.15v1.15h-1.15zM111.4 469.9h1.15v1.15h-1.15zM116.9 468.7h1.15v1.15h-1.15zM106.8 478.6h1.15v1.15h-1.15zM114.2 472.1h1.15v1.15h-1.15zM117.0 471.2h1.15v1.15h-1.15zM106.1 472.6h1.15v1.15h-1.15zM112.6 473.3h1.15v1.15h-1.15zM113.0 470.8h1.15v1.15h-1.15zM110.8 476.1h1.15v1.15h-1.15zM115.4 472.6h1.15v1.15h-1.15zM110.9 474.8h1.15v1.15h-1.15zM107.8 478.1h1.15v1.15h-1.15zM106.9 476.0h1.15v1.15h-1.15zM107.2 473.9h1.15v1.15h-1.15zM114.6 471.8h1.15v1.15h-1.15zM113.8 476.1h1.15v1.15h-1.15zM110.5 469.3h1.15v1.15h-1.15zM111.9 469.1h1.15v1.15h-1.15zM104.1 472.6h1.15v1.15h-1.15zM113.4 473.8h1.15v1.15h-1.15zM115.6 473.5h1.15v1.15h-1.15zM105.1 468.6h1.15v1.15h-1.15zM110.6 466.6h1.15v1.15h-1.15zM109.8 471.8h1.15v1.15h-1.15zM115.2 469.7h1.15v1.15h-1.15zM117.1 467.3h1.15v1.15h-1.15zM111.2 473.4h1.15v1.15h-1.15zM107.7 476.2h1.15v1.15h-1.15zM107.6 468.2h1.15v1.15h-1.15zM107.7 466.9h1.15v1.15h-1.15zM111.0 474.1h1.15v1.15h-1.15zM112.0 469.7h1.15v1.15h-1.15zM115.7 467.5h1.15v1.15h-1.15zM106.8 468.5h1.15v1.15h-1.15zM113.6 468.4h1.15v1.15h-1.15zM113.6 476.6h1.15v1.15h-1.15zM109.2 467.2h1.15v1.15h-1.15zM106.4 470.9h1.15v1.15h-1.15zM106.7 478.4h1.15v1.15h-1.15zM114.3 472.4h1.15v1.15h-1.15zM107.7 478.6h1.15v1.15h-1.15zM114.1 472.0h1.15v1.15h-1.15zM106.5 466.9h1.15v1.15h-1.15zM107.2 477.4h1.15v1.15h-1.15zM107.6 471.3h1.15v1.15h-1.15zM104.5 471.6h1.15v1.15h-1.15zM118.6 466.8h1.15v1.15h-1.15zM113.3 475.8h1.15v1.15h-1.15zM106.8 469.3h1.15v1.15h-1.15zM107.1 473.2h1.15v1.15h-1.15zM116.8 472.1h1.15v1.15h-1.15zM108.2 470.9h1.15v1.15h-1.15zM111.5 478.5h1.15v1.15h-1.15zM109.1 466.9h1.15v1.15h-1.15zM105.1 474.4h1.15v1.15h-1.15zM113.6 470.6h1.15v1.15h-1.15zM111.5 477.1h1.15v1.15h-1.15zM110.3 477.3h1.15v1.15h-1.15zM115.7 471.3h1.15v1.15h-1.15zM114.8 471.1h1.15v1.15h-1.15zM108.2 469.1h1.15v1.15h-1.15zM111.4 468.7h1.15v1.15h-1.15zM105.9 468.4h1.15v1.15h-1.15zM110.1 469.1h1.15v1.15h-1.15zM109.8 470.2h1.15v1.15h-1.15zM112.1 478.6h1.15v1.15h-1.15zM107.7 477.0h1.15v1.15h-1.15zM104.3 471.1h1.15v1.15h-1.15zM109.0 474.9h1.15v1.15h-1.15zM103.2 469.8h1.15v1.15h-1.15zM106.9 468.7h1.15v1.15h-1.15zM116.9 471.3h1.15v1.15h-1.15zM107.9 475.2h1.15v1.15h-1.15zM105.4 470.9h1.15v1.15h-1.15zM109.4 477.9h1.15v1.15h-1.15zM113.2 475.8h1.15v1.15h-1.15zM106.1 477.6h1.15v1.15h-1.15zM108.9 470.4h1.15v1.15h-1.15zM116.7 467.4h1.15v1.15h-1.15zM114.7 470.4h1.15v1.15h-1.15zM104.5 472.8h1.15v1.15h-1.15zM106.8 471.3h1.15v1.15h-1.15zM105.0 466.9h1.15v1.15h-1.15zM104.5 473.7h1.15v1.15h-1.15zM109.5 470.3h1.15v1.15h-1.15zM105.7 473.1h1.15v1.15h-1.15z" fill="#4f5872"/>
<path d="M108.7 459.4h1.0v1.0h-1.0zM103.6 457.8h1.0v1.0h-1.0zM114.6 447.8h1.0v1.0h-1.0zM115.8 459.0h1.0v1.0h-1.0zM102.9 463.0h1.0v1.0h-1.0zM116.0 446.4h1.0v1.0h-1.0zM108.4 446.1h1.0v1.0h-1.0zM119.1 441.6h1.0v1.0h-1.0zM123.9 455.2h1.0v1.0h-1.0zM112.8 461.5h1.0v1.0h-1.0zM118.6 457.9h1.0v1.0h-1.0zM109.5 464.4h1.0v1.0h-1.0zM113.8 457.8h1.0v1.0h-1.0zM124.9 465.3h1.0v1.0h-1.0zM115.4 456.9h1.0v1.0h-1.0zM105.6 442.8h1.0v1.0h-1.0zM102.2 442.1h1.0v1.0h-1.0zM114.9 450.5h1.0v1.0h-1.0zM105.4 447.8h1.0v1.0h-1.0zM120.5 444.6h1.0v1.0h-1.0zM101.9 444.8h1.0v1.0h-1.0zM116.9 457.8h1.0v1.0h-1.0zM111.0 449.4h1.0v1.0h-1.0zM114.9 451.5h1.0v1.0h-1.0zM118.0 458.7h1.0v1.0h-1.0zM120.9 454.9h1.0v1.0h-1.0zM110.1 450.7h1.0v1.0h-1.0zM108.7 450.0h1.0v1.0h-1.0zM119.6 441.9h1.0v1.0h-1.0zM114.4 453.4h1.0v1.0h-1.0zM101.5 449.0h1.0v1.0h-1.0zM105.2 447.1h1.0v1.0h-1.0zM119.4 463.7h1.0v1.0h-1.0zM112.0 455.2h1.0v1.0h-1.0zM109.6 445.3h1.0v1.0h-1.0zM124.8 452.7h1.0v1.0h-1.0zM93.0 449.9h1.0v1.0h-1.0zM95.0 455.5h1.0v1.0h-1.0zM126.0 456.8h1.0v1.0h-1.0zM104.9 456.6h1.0v1.0h-1.0zM102.4 447.7h1.0v1.0h-1.0zM115.9 462.1h1.0v1.0h-1.0zM117.5 464.1h1.0v1.0h-1.0zM104.3 441.5h1.0v1.0h-1.0zM118.1 448.5h1.0v1.0h-1.0zM119.2 449.9h1.0v1.0h-1.0zM116.1 445.5h1.0v1.0h-1.0zM109.9 446.4h1.0v1.0h-1.0zM107.7 440.5h1.0v1.0h-1.0zM104.4 454.6h1.0v1.0h-1.0zM105.2 453.3h1.0v1.0h-1.0zM115.0 457.4h1.0v1.0h-1.0zM98.0 455.1h1.0v1.0h-1.0zM106.7 462.1h1.0v1.0h-1.0zM119.1 449.5h1.0v1.0h-1.0zM109.0 463.5h1.0v1.0h-1.0zM104.9 458.6h1.0v1.0h-1.0zM124.6 458.4h1.0v1.0h-1.0zM128.0 444.6h1.0v1.0h-1.0zM106.7 456.7h1.0v1.0h-1.0zM98.5 450.1h1.0v1.0h-1.0zM111.4 447.9h1.0v1.0h-1.0zM110.6 446.7h1.0v1.0h-1.0zM99.0 447.0h1.0v1.0h-1.0zM108.0 453.9h1.0v1.0h-1.0zM116.0 443.8h1.0v1.0h-1.0zM114.0 443.2h1.0v1.0h-1.0zM112.1 458.8h1.0v1.0h-1.0zM118.6 460.6h1.0v1.0h-1.0zM117.5 453.0h1.0v1.0h-1.0z" fill="#2d5a92" opacity="0.75"/>
<path d="M124.2 476.9h1.0v1.0h-1.0zM131.5 467.1h1.0v1.0h-1.0zM112.4 476.1h1.0v1.0h-1.0zM125.8 471.2h1.0v1.0h-1.0zM110.9 475.1h1.0v1.0h-1.0zM104.5 470.4h1.0v1.0h-1.0zM103.4 476.6h1.0v1.0h-1.0zM128.7 476.4h1.0v1.0h-1.0zM102.2 475.0h1.0v1.0h-1.0zM108.0 474.0h1.0v1.0h-1.0zM122.3 468.0h1.0v1.0h-1.0zM95.4 471.0h1.0v1.0h-1.0zM108.8 468.7h1.0v1.0h-1.0zM105.7 466.7h1.0v1.0h-1.0zM90.2 478.1h1.0v1.0h-1.0zM99.3 468.1h1.0v1.0h-1.0zM108.3 474.1h1.0v1.0h-1.0zM102.1 471.3h1.0v1.0h-1.0zM142.8 467.1h1.0v1.0h-1.0zM99.3 475.1h1.0v1.0h-1.0zM115.1 469.9h1.0v1.0h-1.0zM114.9 475.3h1.0v1.0h-1.0zM118.3 470.5h1.0v1.0h-1.0zM112.5 466.8h1.0v1.0h-1.0zM100.5 471.0h1.0v1.0h-1.0zM109.4 470.2h1.0v1.0h-1.0zM119.3 469.9h1.0v1.0h-1.0zM92.7 471.2h1.0v1.0h-1.0zM98.9 478.3h1.0v1.0h-1.0zM100.1 471.2h1.0v1.0h-1.0zM107.9 476.1h1.0v1.0h-1.0zM99.7 468.3h1.0v1.0h-1.0zM115.1 477.7h1.0v1.0h-1.0zM117.4 469.5h1.0v1.0h-1.0zM107.1 470.4h1.0v1.0h-1.0zM113.1 466.7h1.0v1.0h-1.0zM107.1 474.0h1.0v1.0h-1.0zM110.2 469.8h1.0v1.0h-1.0zM114.5 470.9h1.0v1.0h-1.0zM125.2 469.6h1.0v1.0h-1.0zM116.5 477.2h1.0v1.0h-1.0zM114.0 470.2h1.0v1.0h-1.0zM118.9 472.3h1.0v1.0h-1.0zM116.0 478.5h1.0v1.0h-1.0zM119.2 472.3h1.0v1.0h-1.0zM133.8 471.5h1.0v1.0h-1.0zM116.6 467.2h1.0v1.0h-1.0zM102.4 473.1h1.0v1.0h-1.0zM104.2 469.8h1.0v1.0h-1.0zM99.9 477.8h1.0v1.0h-1.0zM136.0 471.8h1.0v1.0h-1.0zM86.1 476.5h1.0v1.0h-1.0zM111.6 466.8h1.0v1.0h-1.0zM105.9 468.5h1.0v1.0h-1.0zM115.9 470.8h1.0v1.0h-1.0z" fill="#555d72" opacity="0.75"/>
<path d="M273.9 461.4h1.15v1.15h-1.15zM273.0 456.3h1.15v1.15h-1.15zM276.0 448.0h1.15v1.15h-1.15zM275.0 438.4h1.15v1.15h-1.15zM276.8 462.5h1.15v1.15h-1.15zM274.5 461.0h1.15v1.15h-1.15zM277.0 462.4h1.15v1.15h-1.15zM277.8 461.7h1.15v1.15h-1.15zM275.7 443.9h1.15v1.15h-1.15zM275.7 453.6h1.15v1.15h-1.15zM276.0 449.3h1.15v1.15h-1.15zM275.1 439.5h1.15v1.15h-1.15zM274.8 448.6h1.15v1.15h-1.15zM275.5 452.7h1.15v1.15h-1.15zM274.2 462.5h1.15v1.15h-1.15zM274.3 459.0h1.15v1.15h-1.15zM276.1 450.2h1.15v1.15h-1.15zM273.8 451.4h1.15v1.15h-1.15zM275.8 451.8h1.15v1.15h-1.15zM275.6 448.1h1.15v1.15h-1.15zM275.8 457.0h1.15v1.15h-1.15zM274.2 446.9h1.15v1.15h-1.15zM274.8 445.6h1.15v1.15h-1.15zM273.2 454.3h1.15v1.15h-1.15zM274.6 456.0h1.15v1.15h-1.15zM275.1 451.4h1.15v1.15h-1.15zM273.0 465.2h1.15v1.15h-1.15zM273.9 463.8h1.15v1.15h-1.15zM272.8 461.4h1.15v1.15h-1.15zM274.5 465.8h1.15v1.15h-1.15zM273.1 465.4h1.15v1.15h-1.15zM275.7 453.7h1.15v1.15h-1.15zM274.6 446.9h1.15v1.15h-1.15zM277.4 459.9h1.15v1.15h-1.15zM274.1 451.4h1.15v1.15h-1.15zM276.6 452.4h1.15v1.15h-1.15zM275.3 445.8h1.15v1.15h-1.15zM275.5 452.9h1.15v1.15h-1.15zM275.3 448.1h1.15v1.15h-1.15zM277.3 464.0h1.15v1.15h-1.15zM275.0 458.8h1.15v1.15h-1.15zM273.3 457.5h1.15v1.15h-1.15zM276.2 463.0h1.15v1.15h-1.15zM275.7 454.8h1.15v1.15h-1.15zM274.6 454.0h1.15v1.15h-1.15zM275.3 448.7h1.15v1.15h-1.15zM275.1 457.6h1.15v1.15h-1.15zM275.2 440.2h1.15v1.15h-1.15zM275.4 454.7h1.15v1.15h-1.15zM277.0 458.1h1.15v1.15h-1.15zM275.0 446.0h1.15v1.15h-1.15zM276.7 465.9h1.15v1.15h-1.15zM275.7 451.2h1.15v1.15h-1.15zM274.3 465.8h1.15v1.15h-1.15zM272.6 463.6h1.15v1.15h-1.15zM275.0 465.8h1.15v1.15h-1.15zM275.8 448.8h1.15v1.15h-1.15zM277.2 459.3h1.15v1.15h-1.15zM276.9 462.9h1.15v1.15h-1.15zM277.1 456.2h1.15v1.15h-1.15zM275.5 442.2h1.15v1.15h-1.15zM273.7 460.6h1.15v1.15h-1.15zM274.7 462.5h1.15v1.15h-1.15zM276.6 456.8h1.15v1.15h-1.15zM274.6 447.6h1.15v1.15h-1.15zM272.9 459.2h1.15v1.15h-1.15zM276.3 457.2h1.15v1.15h-1.15zM274.0 455.7h1.15v1.15h-1.15zM277.1 462.3h1.15v1.15h-1.15zM275.3 461.7h1.15v1.15h-1.15zM277.0 464.3h1.15v1.15h-1.15zM274.8 446.0h1.15v1.15h-1.15zM274.3 443.9h1.15v1.15h-1.15zM276.2 452.1h1.15v1.15h-1.15zM272.7 463.0h1.15v1.15h-1.15zM274.8 447.1h1.15v1.15h-1.15zM275.8 463.3h1.15v1.15h-1.15zM272.2 464.2h1.15v1.15h-1.15zM272.9 465.8h1.15v1.15h-1.15zM276.9 458.8h1.15v1.15h-1.15zM273.4 460.9h1.15v1.15h-1.15zM274.7 459.7h1.15v1.15h-1.15zM274.9 438.8h1.15v1.15h-1.15zM275.4 451.2h1.15v1.15h-1.15zM275.3 450.2h1.15v1.15h-1.15zM273.3 460.2h1.15v1.15h-1.15zM275.4 445.0h1.15v1.15h-1.15zM273.6 455.2h1.15v1.15h-1.15zM275.7 444.6h1.15v1.15h-1.15zM274.3 458.4h1.15v1.15h-1.15zM276.1 447.6h1.15v1.15h-1.15zM276.3 460.2h1.15v1.15h-1.15zM274.4 452.5h1.15v1.15h-1.15zM273.8 453.7h1.15v1.15h-1.15zM274.7 458.9h1.15v1.15h-1.15zM274.5 462.7h1.15v1.15h-1.15zM275.0 454.9h1.15v1.15h-1.15zM274.0 465.0h1.15v1.15h-1.15zM273.6 460.4h1.15v1.15h-1.15zM274.0 457.8h1.15v1.15h-1.15zM273.7 463.7h1.15v1.15h-1.15zM276.1 463.4h1.15v1.15h-1.15zM276.7 454.9h1.15v1.15h-1.15zM275.8 453.2h1.15v1.15h-1.15zM274.8 458.2h1.15v1.15h-1.15zM274.9 442.1h1.15v1.15h-1.15zM274.9 450.3h1.15v1.15h-1.15zM273.6 465.2h1.15v1.15h-1.15zM275.9 460.2h1.15v1.15h-1.15zM274.8 449.1h1.15v1.15h-1.15zM275.7 445.2h1.15v1.15h-1.15zM274.8 449.4h1.15v1.15h-1.15zM276.0 452.0h1.15v1.15h-1.15zM275.6 463.3h1.15v1.15h-1.15zM273.3 457.0h1.15v1.15h-1.15zM272.3 464.1h1.15v1.15h-1.15zM274.6 452.6h1.15v1.15h-1.15zM276.0 460.8h1.15v1.15h-1.15zM276.3 452.0h1.15v1.15h-1.15zM271.7 465.1h1.15v1.15h-1.15zM274.9 458.9h1.15v1.15h-1.15zM274.9 452.5h1.15v1.15h-1.15zM275.5 451.3h1.15v1.15h-1.15zM277.3 458.3h1.15v1.15h-1.15zM278.5 465.6h1.15v1.15h-1.15zM276.2 453.4h1.15v1.15h-1.15zM276.0 459.3h1.15v1.15h-1.15zM271.9 466.0h1.15v1.15h-1.15zM274.6 455.1h1.15v1.15h-1.15zM273.6 459.4h1.15v1.15h-1.15zM273.0 465.8h1.15v1.15h-1.15zM273.9 452.7h1.15v1.15h-1.15zM275.9 453.4h1.15v1.15h-1.15zM274.6 443.1h1.15v1.15h-1.15zM275.6 459.3h1.15v1.15h-1.15zM273.6 461.2h1.15v1.15h-1.15zM276.4 462.5h1.15v1.15h-1.15zM272.8 461.8h1.15v1.15h-1.15zM273.1 455.2h1.15v1.15h-1.15zM277.8 463.5h1.15v1.15h-1.15zM271.9 464.1h1.15v1.15h-1.15zM275.1 452.2h1.15v1.15h-1.15zM273.4 456.7h1.15v1.15h-1.15zM273.9 462.1h1.15v1.15h-1.15zM273.5 456.1h1.15v1.15h-1.15zM273.4 457.5h1.15v1.15h-1.15zM275.0 443.3h1.15v1.15h-1.15zM275.8 450.6h1.15v1.15h-1.15zM274.8 449.2h1.15v1.15h-1.15zM274.7 441.6h1.15v1.15h-1.15z" fill="#1d4f8f"/>
<path d="M281.2 459.1h1.15v1.15h-1.15zM282.6 459.2h1.15v1.15h-1.15zM281.8 454.7h1.15v1.15h-1.15zM282.3 455.4h1.15v1.15h-1.15zM280.4 460.0h1.15v1.15h-1.15zM283.0 461.1h1.15v1.15h-1.15zM280.3 465.6h1.15v1.15h-1.15zM280.2 453.6h1.15v1.15h-1.15zM282.5 463.7h1.15v1.15h-1.15zM278.8 462.4h1.15v1.15h-1.15zM278.5 460.1h1.15v1.15h-1.15zM280.4 454.8h1.15v1.15h-1.15zM282.0 465.6h1.15v1.15h-1.15zM277.7 464.1h1.15v1.15h-1.15zM279.0 458.7h1.15v1.15h-1.15zM279.5 456.7h1.15v1.15h-1.15zM279.6 465.0h1.15v1.15h-1.15zM281.7 459.6h1.15v1.15h-1.15zM284.2 464.6h1.15v1.15h-1.15zM280.9 460.6h1.15v1.15h-1.15zM280.1 464.8h1.15v1.15h-1.15zM281.8 457.2h1.15v1.15h-1.15zM280.5 456.7h1.15v1.15h-1.15zM280.8 458.8h1.15v1.15h-1.15zM280.6 457.9h1.15v1.15h-1.15zM278.8 459.1h1.15v1.15h-1.15zM277.9 464.0h1.15v1.15h-1.15zM281.2 460.1h1.15v1.15h-1.15zM279.7 458.5h1.15v1.15h-1.15zM280.6 454.7h1.15v1.15h-1.15zM280.9 457.4h1.15v1.15h-1.15zM281.8 456.3h1.15v1.15h-1.15zM278.5 459.6h1.15v1.15h-1.15zM283.0 458.5h1.15v1.15h-1.15zM281.1 453.5h1.15v1.15h-1.15zM279.9 465.5h1.15v1.15h-1.15zM280.2 461.0h1.15v1.15h-1.15zM281.3 457.2h1.15v1.15h-1.15zM279.9 460.9h1.15v1.15h-1.15zM281.0 459.7h1.15v1.15h-1.15zM278.0 462.9h1.15v1.15h-1.15zM280.3 454.6h1.15v1.15h-1.15zM282.0 456.8h1.15v1.15h-1.15zM282.6 458.8h1.15v1.15h-1.15zM280.0 458.5h1.15v1.15h-1.15zM278.4 462.0h1.15v1.15h-1.15zM283.5 465.8h1.15v1.15h-1.15zM280.2 457.6h1.15v1.15h-1.15zM282.9 463.7h1.15v1.15h-1.15zM278.3 461.5h1.15v1.15h-1.15zM277.9 463.0h1.15v1.15h-1.15zM281.2 461.3h1.15v1.15h-1.15zM282.0 465.1h1.15v1.15h-1.15zM281.9 453.7h1.15v1.15h-1.15zM281.4 462.9h1.15v1.15h-1.15zM281.4 453.5h1.15v1.15h-1.15zM281.7 458.7h1.15v1.15h-1.15zM284.2 465.8h1.15v1.15h-1.15zM281.6 454.4h1.15v1.15h-1.15zM282.1 459.0h1.15v1.15h-1.15zM280.7 458.2h1.15v1.15h-1.15zM279.2 458.9h1.15v1.15h-1.15zM281.8 457.5h1.15v1.15h-1.15zM280.0 454.3h1.15v1.15h-1.15zM282.1 463.9h1.15v1.15h-1.15zM278.9 460.3h1.15v1.15h-1.15zM280.4 454.9h1.15v1.15h-1.15zM281.4 465.4h1.15v1.15h-1.15zM278.7 465.0h1.15v1.15h-1.15zM281.1 458.7h1.15v1.15h-1.15zM278.3 464.0h1.15v1.15h-1.15zM280.7 464.4h1.15v1.15h-1.15zM280.8 453.8h1.15v1.15h-1.15zM281.7 458.2h1.15v1.15h-1.15zM280.9 465.1h1.15v1.15h-1.15zM280.2 462.1h1.15v1.15h-1.15zM278.3 463.2h1.15v1.15h-1.15zM278.8 462.8h1.15v1.15h-1.15zM279.3 460.8h1.15v1.15h-1.15zM279.6 457.8h1.15v1.15h-1.15zM281.3 457.8h1.15v1.15h-1.15zM280.4 460.0h1.15v1.15h-1.15zM282.8 460.7h1.15v1.15h-1.15zM281.3 457.9h1.15v1.15h-1.15zM283.3 459.5h1.15v1.15h-1.15zM281.7 457.6h1.15v1.15h-1.15zM280.1 456.4h1.15v1.15h-1.15zM281.4 462.6h1.15v1.15h-1.15zM279.4 456.7h1.15v1.15h-1.15zM280.1 463.8h1.15v1.15h-1.15zM280.5 462.5h1.15v1.15h-1.15zM281.3 461.2h1.15v1.15h-1.15zM284.1 465.7h1.15v1.15h-1.15zM280.9 459.2h1.15v1.15h-1.15zM281.8 456.3h1.15v1.15h-1.15zM280.4 454.7h1.15v1.15h-1.15zM277.6 464.1h1.15v1.15h-1.15zM281.3 462.2h1.15v1.15h-1.15zM280.0 460.4h1.15v1.15h-1.15zM282.2 455.3h1.15v1.15h-1.15zM282.9 463.1h1.15v1.15h-1.15zM281.7 454.7h1.15v1.15h-1.15zM279.9 456.2h1.15v1.15h-1.15zM281.5 460.2h1.15v1.15h-1.15zM281.6 454.9h1.15v1.15h-1.15zM283.1 460.8h1.15v1.15h-1.15zM282.4 465.1h1.15v1.15h-1.15zM282.8 458.0h1.15v1.15h-1.15zM279.6 462.5h1.15v1.15h-1.15zM282.5 464.2h1.15v1.15h-1.15z" fill="#1d4f8f"/>
<path d="M272.9 469.4h1.15v1.15h-1.15zM277.9 466.3h1.15v1.15h-1.15zM273.6 469.2h1.15v1.15h-1.15zM270.8 469.2h1.15v1.15h-1.15zM273.6 472.1h1.15v1.15h-1.15zM273.4 469.6h1.15v1.15h-1.15zM283.1 472.4h1.15v1.15h-1.15zM283.6 468.0h1.15v1.15h-1.15zM278.5 476.8h1.15v1.15h-1.15zM280.8 472.9h1.15v1.15h-1.15zM279.7 472.8h1.15v1.15h-1.15zM280.1 477.6h1.15v1.15h-1.15zM269.5 469.3h1.15v1.15h-1.15zM275.8 477.8h1.15v1.15h-1.15zM273.9 475.9h1.15v1.15h-1.15zM275.1 471.7h1.15v1.15h-1.15zM283.1 475.2h1.15v1.15h-1.15zM278.3 472.4h1.15v1.15h-1.15zM272.7 470.4h1.15v1.15h-1.15zM273.4 478.0h1.15v1.15h-1.15zM278.8 477.9h1.15v1.15h-1.15zM284.4 466.9h1.15v1.15h-1.15zM278.4 467.3h1.15v1.15h-1.15zM286.0 467.5h1.15v1.15h-1.15zM283.6 469.9h1.15v1.15h-1.15zM280.2 466.8h1.15v1.15h-1.15zM268.8 466.9h1.15v1.15h-1.15zM284.5 473.2h1.15v1.15h-1.15zM282.1 474.7h1.15v1.15h-1.15zM277.5 475.9h1.15v1.15h-1.15zM277.7 467.0h1.15v1.15h-1.15zM277.7 468.4h1.15v1.15h-1.15zM277.2 470.5h1.15v1.15h-1.15zM280.8 468.5h1.15v1.15h-1.15zM277.0 471.3h1.15v1.15h-1.15zM277.0 467.0h1.15v1.15h-1.15zM284.4 473.1h1.15v1.15h-1.15zM271.7 473.1h1.15v1.15h-1.15zM274.4 469.8h1.15v1.15h-1.15zM283.2 474.9h1.15v1.15h-1.15zM281.5 478.3h1.15v1.15h-1.15zM280.9 477.7h1.15v1.15h-1.15zM272.4 477.8h1.15v1.15h-1.15zM278.7 472.2h1.15v1.15h-1.15zM278.8 474.7h1.15v1.15h-1.15zM283.6 473.8h1.15v1.15h-1.15zM277.6 467.1h1.15v1.15h-1.15zM272.7 478.1h1.15v1.15h-1.15zM283.8 467.4h1.15v1.15h-1.15zM272.6 478.1h1.15v1.15h-1.15zM283.2 466.4h1.15v1.15h-1.15zM277.5 474.7h1.15v1.15h-1.15zM281.1 473.3h1.15v1.15h-1.15zM271.2 476.2h1.15v1.15h-1.15zM282.5 466.9h1.15v1.15h-1.15zM280.4 478.3h1.15v1.15h-1.15zM274.5 471.2h1.15v1.15h-1.15zM269.0 470.4h1.15v1.15h-1.15zM274.2 475.7h1.15v1.15h-1.15zM277.6 473.4h1.15v1.15h-1.15zM280.2 470.3h1.15v1.15h-1.15zM272.9 471.8h1.15v1.15h-1.15zM273.7 477.1h1.15v1.15h-1.15zM272.8 467.9h1.15v1.15h-1.15zM281.7 472.1h1.15v1.15h-1.15zM272.8 470.2h1.15v1.15h-1.15zM273.8 474.3h1.15v1.15h-1.15zM273.4 472.6h1.15v1.15h-1.15zM273.7 477.1h1.15v1.15h-1.15zM273.7 469.0h1.15v1.15h-1.15zM281.1 470.2h1.15v1.15h-1.15zM281.3 474.5h1.15v1.15h-1.15zM270.7 472.8h1.15v1.15h-1.15zM274.0 475.6h1.15v1.15h-1.15zM275.7 468.8h1.15v1.15h-1.15zM276.0 478.5h1.15v1.15h-1.15zM284.2 470.5h1.15v1.15h-1.15zM276.2 478.5h1.15v1.15h-1.15zM282.4 467.7h1.15v1.15h-1.15zM275.2 475.9h1.15v1.15h-1.15zM275.7 476.0h1.15v1.15h-1.15zM278.8 469.6h1.15v1.15h-1.15zM276.9 475.4h1.15v1.15h-1.15zM271.4 476.3h1.15v1.15h-1.15zM275.3 472.3h1.15v1.15h-1.15zM284.7 466.8h1.15v1.15h-1.15zM272.0 467.8h1.15v1.15h-1.15zM282.3 477.1h1.15v1.15h-1.15zM275.6 477.8h1.15v1.15h-1.15zM273.6 477.8h1.15v1.15h-1.15zM283.2 475.0h1.15v1.15h-1.15zM270.8 468.5h1.15v1.15h-1.15zM282.5 474.6h1.15v1.15h-1.15zM283.2 475.2h1.15v1.15h-1.15zM275.2 471.7h1.15v1.15h-1.15zM273.2 467.5h1.15v1.15h-1.15zM272.9 477.9h1.15v1.15h-1.15zM274.5 468.4h1.15v1.15h-1.15zM273.8 466.6h1.15v1.15h-1.15zM270.5 468.3h1.15v1.15h-1.15zM277.8 472.7h1.15v1.15h-1.15zM281.2 473.2h1.15v1.15h-1.15zM284.2 472.7h1.15v1.15h-1.15zM272.3 467.1h1.15v1.15h-1.15zM273.8 467.0h1.15v1.15h-1.15zM282.7 475.6h1.15v1.15h-1.15zM271.9 472.4h1.15v1.15h-1.15zM278.4 470.2h1.15v1.15h-1.15zM282.3 469.7h1.15v1.15h-1.15zM276.8 478.3h1.15v1.15h-1.15zM282.3 473.6h1.15v1.15h-1.15zM272.3 471.9h1.15v1.15h-1.15zM282.0 477.9h1.15v1.15h-1.15zM282.0 466.3h1.15v1.15h-1.15zM269.8 471.1h1.15v1.15h-1.15zM271.4 468.1h1.15v1.15h-1.15zM273.4 475.3h1.15v1.15h-1.15zM272.2 466.3h1.15v1.15h-1.15zM277.2 476.1h1.15v1.15h-1.15zM276.7 474.3h1.15v1.15h-1.15zM268.6 468.3h1.15v1.15h-1.15zM269.4 469.9h1.15v1.15h-1.15zM279.3 469.3h1.15v1.15h-1.15zM276.8 470.7h1.15v1.15h-1.15zM274.6 473.9h1.15v1.15h-1.15zM283.7 470.5h1.15v1.15h-1.15zM276.0 473.3h1.15v1.15h-1.15zM276.6 472.8h1.15v1.15h-1.15zM284.3 470.2h1.15v1.15h-1.15zM284.9 469.0h1.15v1.15h-1.15zM281.6 476.8h1.15v1.15h-1.15zM277.4 468.1h1.15v1.15h-1.15zM275.3 478.4h1.15v1.15h-1.15zM281.2 468.2h1.15v1.15h-1.15zM278.7 469.0h1.15v1.15h-1.15zM285.2 468.0h1.15v1.15h-1.15zM270.3 469.6h1.15v1.15h-1.15zM275.1 474.7h1.15v1.15h-1.15zM277.2 473.1h1.15v1.15h-1.15zM277.4 477.6h1.15v1.15h-1.15zM268.9 470.8h1.15v1.15h-1.15zM273.6 472.3h1.15v1.15h-1.15zM279.2 473.3h1.15v1.15h-1.15zM270.6 471.8h1.15v1.15h-1.15zM276.9 472.3h1.15v1.15h-1.15zM283.9 474.1h1.15v1.15h-1.15zM276.2 469.6h1.15v1.15h-1.15zM282.6 467.1h1.15v1.15h-1.15zM283.0 469.0h1.15v1.15h-1.15zM274.2 476.1h1.15v1.15h-1.15zM277.3 477.4h1.15v1.15h-1.15zM278.1 471.4h1.15v1.15h-1.15zM277.1 477.9h1.15v1.15h-1.15zM273.9 472.1h1.15v1.15h-1.15zM277.3 476.6h1.15v1.15h-1.15zM272.1 470.3h1.15v1.15h-1.15zM283.1 468.7h1.15v1.15h-1.15zM283.1 476.1h1.15v1.15h-1.15zM279.2 477.6h1.15v1.15h-1.15zM279.8 476.1h1.15v1.15h-1.15zM280.9 476.2h1.15v1.15h-1.15zM282.8 468.2h1.15v1.15h-1.15zM272.8 469.8h1.15v1.15h-1.15zM272.3 477.6h1.15v1.15h-1.15zM274.8 472.5h1.15v1.15h-1.15zM278.6 476.0h1.15v1.15h-1.15zM281.8 477.5h1.15v1.15h-1.15zM271.0 474.1h1.15v1.15h-1.15zM271.8 474.4h1.15v1.15h-1.15zM280.7 478.4h1.15v1.15h-1.15zM271.8 469.9h1.15v1.15h-1.15zM280.8 474.8h1.15v1.15h-1.15zM278.4 478.4h1.15v1.15h-1.15zM281.3 467.6h1.15v1.15h-1.15zM283.8 466.8h1.15v1.15h-1.15zM280.8 475.7h1.15v1.15h-1.15zM278.0 477.0h1.15v1.15h-1.15zM278.6 477.9h1.15v1.15h-1.15zM275.4 472.2h1.15v1.15h-1.15zM269.2 470.5h1.15v1.15h-1.15zM282.5 468.1h1.15v1.15h-1.15zM279.9 468.9h1.15v1.15h-1.15zM279.7 475.8h1.15v1.15h-1.15zM274.4 472.5h1.15v1.15h-1.15zM271.8 469.5h1.15v1.15h-1.15zM279.9 474.2h1.15v1.15h-1.15zM275.5 477.9h1.15v1.15h-1.15zM281.4 477.7h1.15v1.15h-1.15zM285.0 469.7h1.15v1.15h-1.15zM284.0 473.8h1.15v1.15h-1.15zM275.1 475.8h1.15v1.15h-1.15zM277.6 469.5h1.15v1.15h-1.15zM269.9 472.2h1.15v1.15h-1.15zM277.6 476.9h1.15v1.15h-1.15zM281.1 472.0h1.15v1.15h-1.15zM272.0 469.2h1.15v1.15h-1.15zM273.4 473.3h1.15v1.15h-1.15zM269.9 470.2h1.15v1.15h-1.15zM274.6 466.7h1.15v1.15h-1.15zM284.2 472.7h1.15v1.15h-1.15zM276.0 474.1h1.15v1.15h-1.15zM272.9 471.2h1.15v1.15h-1.15zM284.6 472.0h1.15v1.15h-1.15zM276.0 467.6h1.15v1.15h-1.15zM280.8 474.7h1.15v1.15h-1.15zM279.4 473.0h1.15v1.15h-1.15zM281.3 477.8h1.15v1.15h-1.15zM277.9 469.2h1.15v1.15h-1.15zM277.5 478.6h1.15v1.15h-1.15zM281.9 468.4h1.15v1.15h-1.15zM270.9 466.7h1.15v1.15h-1.15zM273.8 473.0h1.15v1.15h-1.15zM280.3 475.1h1.15v1.15h-1.15zM281.8 470.0h1.15v1.15h-1.15zM280.2 474.2h1.15v1.15h-1.15zM276.1 471.8h1.15v1.15h-1.15zM276.8 467.4h1.15v1.15h-1.15zM281.0 478.1h1.15v1.15h-1.15zM269.5 466.7h1.15v1.15h-1.15zM280.6 469.4h1.15v1.15h-1.15zM271.2 471.5h1.15v1.15h-1.15zM278.4 471.4h1.15v1.15h-1.15zM276.0 475.4h1.15v1.15h-1.15zM279.8 474.2h1.15v1.15h-1.15zM270.6 473.8h1.15v1.15h-1.15zM272.2 475.0h1.15v1.15h-1.15zM276.8 466.7h1.15v1.15h-1.15zM269.5 466.2h1.15v1.15h-1.15zM276.7 471.0h1.15v1.15h-1.15zM285.3 467.4h1.15v1.15h-1.15zM277.1 476.8h1.15v1.15h-1.15zM274.5 473.4h1.15v1.15h-1.15zM273.7 478.4h1.15v1.15h-1.15zM272.4 469.9h1.15v1.15h-1.15zM277.3 476.9h1.15v1.15h-1.15zM275.6 471.2h1.15v1.15h-1.15zM274.6 477.2h1.15v1.15h-1.15zM279.8 476.0h1.15v1.15h-1.15zM275.1 471.7h1.15v1.15h-1.15zM276.5 471.5h1.15v1.15h-1.15zM279.3 470.0h1.15v1.15h-1.15zM274.0 471.2h1.15v1.15h-1.15zM276.7 475.8h1.15v1.15h-1.15zM283.3 472.0h1.15v1.15h-1.15zM275.2 471.8h1.15v1.15h-1.15zM282.3 477.3h1.15v1.15h-1.15zM276.0 475.9h1.15v1.15h-1.15zM280.6 474.5h1.15v1.15h-1.15zM281.1 469.8h1.15v1.15h-1.15zM278.8 478.0h1.15v1.15h-1.15zM276.3 474.5h1.15v1.15h-1.15zM273.3 474.3h1.15v1.15h-1.15zM277.7 475.7h1.15v1.15h-1.15zM275.7 478.4h1.15v1.15h-1.15zM270.7 475.0h1.15v1.15h-1.15zM281.6 471.3h1.15v1.15h-1.15zM279.2 469.3h1.15v1.15h-1.15zM275.4 468.8h1.15v1.15h-1.15zM274.5 478.5h1.15v1.15h-1.15zM272.6 477.5h1.15v1.15h-1.15zM282.0 473.4h1.15v1.15h-1.15zM276.0 476.6h1.15v1.15h-1.15zM280.4 473.5h1.15v1.15h-1.15zM280.4 475.6h1.15v1.15h-1.15zM273.5 473.3h1.15v1.15h-1.15zM278.1 474.9h1.15v1.15h-1.15zM284.7 472.9h1.15v1.15h-1.15zM282.2 467.7h1.15v1.15h-1.15zM281.1 470.1h1.15v1.15h-1.15zM275.0 478.0h1.15v1.15h-1.15zM277.7 473.2h1.15v1.15h-1.15zM272.0 472.3h1.15v1.15h-1.15zM282.9 473.9h1.15v1.15h-1.15zM274.3 474.4h1.15v1.15h-1.15zM276.3 476.2h1.15v1.15h-1.15zM279.1 467.9h1.15v1.15h-1.15zM277.7 471.8h1.15v1.15h-1.15zM277.9 478.5h1.15v1.15h-1.15zM275.8 478.0h1.15v1.15h-1.15zM271.8 475.6h1.15v1.15h-1.15zM280.5 469.8h1.15v1.15h-1.15zM281.7 474.7h1.15v1.15h-1.15zM273.4 470.8h1.15v1.15h-1.15zM277.9 470.5h1.15v1.15h-1.15zM275.0 466.3h1.15v1.15h-1.15zM272.3 474.3h1.15v1.15h-1.15zM283.6 469.9h1.15v1.15h-1.15zM274.7 477.8h1.15v1.15h-1.15zM270.5 468.3h1.15v1.15h-1.15zM282.5 467.1h1.15v1.15h-1.15zM274.1 475.3h1.15v1.15h-1.15zM280.3 472.2h1.15v1.15h-1.15zM283.0 466.4h1.15v1.15h-1.15zM273.9 476.9h1.15v1.15h-1.15zM279.9 474.9h1.15v1.15h-1.15zM283.6 470.3h1.15v1.15h-1.15zM276.8 468.8h1.15v1.15h-1.15zM276.2 470.0h1.15v1.15h-1.15zM278.1 476.3h1.15v1.15h-1.15zM284.4 473.7h1.15v1.15h-1.15z" fill="#4f5872"/>
<path d="M284.1 457.2h1.0v1.0h-1.0zM283.9 456.3h1.0v1.0h-1.0zM290.7 466.1h1.0v1.0h-1.0zM279.0 459.7h1.0v1.0h-1.0zM287.9 464.4h1.0v1.0h-1.0zM290.3 456.6h1.0v1.0h-1.0zM277.9 458.8h1.0v1.0h-1.0zM281.4 465.1h1.0v1.0h-1.0zM278.5 465.0h1.0v1.0h-1.0zM283.3 457.2h1.0v1.0h-1.0zM288.1 463.1h1.0v1.0h-1.0zM291.4 455.3h1.0v1.0h-1.0zM285.2 464.6h1.0v1.0h-1.0zM274.9 455.6h1.0v1.0h-1.0zM280.4 455.0h1.0v1.0h-1.0zM272.0 461.7h1.0v1.0h-1.0zM296.3 464.8h1.0v1.0h-1.0zM285.1 454.8h1.0v1.0h-1.0zM283.6 462.9h1.0v1.0h-1.0zM284.6 462.5h1.0v1.0h-1.0zM286.8 462.8h1.0v1.0h-1.0zM279.5 458.0h1.0v1.0h-1.0zM288.6 461.2h1.0v1.0h-1.0zM279.0 457.5h1.0v1.0h-1.0zM287.0 458.0h1.0v1.0h-1.0z" fill="#2d5a92" opacity="0.8"/>
<path d="M287.4 470.2h1.0v1.0h-1.0zM288.8 473.6h1.0v1.0h-1.0zM287.1 476.7h1.0v1.0h-1.0zM290.9 472.1h1.0v1.0h-1.0zM281.5 477.1h1.0v1.0h-1.0zM287.1 475.5h1.0v1.0h-1.0zM280.1 474.8h1.0v1.0h-1.0zM280.3 472.5h1.0v1.0h-1.0zM281.6 472.5h1.0v1.0h-1.0zM291.1 472.1h1.0v1.0h-1.0zM279.0 476.0h1.0v1.0h-1.0zM285.9 477.2h1.0v1.0h-1.0zM287.7 470.1h1.0v1.0h-1.0zM289.0 466.9h1.0v1.0h-1.0zM290.3 469.9h1.0v1.0h-1.0zM278.2 468.8h1.0v1.0h-1.0zM296.5 474.7h1.0v1.0h-1.0zM277.7 474.8h1.0v1.0h-1.0zM287.2 471.3h1.0v1.0h-1.0zM279.8 473.1h1.0v1.0h-1.0zM303.3 477.5h1.0v1.0h-1.0zM272.8 476.5h1.0v1.0h-1.0zM292.2 478.2h1.0v1.0h-1.0zM289.9 473.0h1.0v1.0h-1.0zM281.5 476.8h1.0v1.0h-1.0zM286.9 472.7h1.0v1.0h-1.0zM290.3 478.4h1.0v1.0h-1.0zM287.3 466.7h1.0v1.0h-1.0zM291.6 474.2h1.0v1.0h-1.0zM293.1 467.8h1.0v1.0h-1.0zM272.2 471.7h1.0v1.0h-1.0zM281.2 475.6h1.0v1.0h-1.0zM279.7 468.6h1.0v1.0h-1.0zM282.5 472.1h1.0v1.0h-1.0zM296.0 469.1h1.0v1.0h-1.0z" fill="#555d72" opacity="0.7"/>
<path d="M446.1 460.4h1.15v1.15h-1.15zM446.2 459.3h1.15v1.15h-1.15zM441.4 462.3h1.15v1.15h-1.15zM446.6 458.1h1.15v1.15h-1.15zM443.3 458.1h1.15v1.15h-1.15zM444.0 463.6h1.15v1.15h-1.15zM446.4 465.6h1.15v1.15h-1.15zM446.4 456.9h1.15v1.15h-1.15zM447.6 458.6h1.15v1.15h-1.15zM448.3 463.2h1.15v1.15h-1.15zM443.6 456.5h1.15v1.15h-1.15zM442.0 464.0h1.15v1.15h-1.15zM443.1 458.0h1.15v1.15h-1.15zM445.6 457.6h1.15v1.15h-1.15zM443.6 465.6h1.15v1.15h-1.15zM447.7 458.5h1.15v1.15h-1.15zM446.5 457.8h1.15v1.15h-1.15zM449.6 462.1h1.15v1.15h-1.15zM446.0 456.4h1.15v1.15h-1.15zM448.0 459.8h1.15v1.15h-1.15zM447.0 458.5h1.15v1.15h-1.15zM445.7 457.8h1.15v1.15h-1.15zM442.7 465.7h1.15v1.15h-1.15zM448.3 458.7h1.15v1.15h-1.15zM441.6 462.7h1.15v1.15h-1.15zM444.3 457.8h1.15v1.15h-1.15zM447.9 458.9h1.15v1.15h-1.15zM450.3 463.0h1.15v1.15h-1.15zM446.9 462.7h1.15v1.15h-1.15zM447.3 459.8h1.15v1.15h-1.15zM442.2 460.9h1.15v1.15h-1.15zM444.8 460.9h1.15v1.15h-1.15zM442.0 461.3h1.15v1.15h-1.15zM447.8 456.2h1.15v1.15h-1.15zM444.5 459.7h1.15v1.15h-1.15zM446.2 457.4h1.15v1.15h-1.15zM442.1 465.2h1.15v1.15h-1.15zM445.7 461.0h1.15v1.15h-1.15zM446.4 463.7h1.15v1.15h-1.15zM443.9 458.3h1.15v1.15h-1.15zM441.6 463.2h1.15v1.15h-1.15zM440.6 464.7h1.15v1.15h-1.15zM445.5 457.8h1.15v1.15h-1.15zM447.0 464.4h1.15v1.15h-1.15zM448.3 463.5h1.15v1.15h-1.15zM441.3 463.2h1.15v1.15h-1.15zM442.0 464.3h1.15v1.15h-1.15zM443.3 457.6h1.15v1.15h-1.15zM447.3 456.2h1.15v1.15h-1.15zM442.8 459.8h1.15v1.15h-1.15zM447.2 456.4h1.15v1.15h-1.15zM449.4 462.0h1.15v1.15h-1.15zM444.1 456.3h1.15v1.15h-1.15zM443.8 458.8h1.15v1.15h-1.15zM444.3 457.1h1.15v1.15h-1.15zM442.7 462.4h1.15v1.15h-1.15zM445.9 457.6h1.15v1.15h-1.15zM443.3 459.7h1.15v1.15h-1.15zM445.8 461.7h1.15v1.15h-1.15zM445.5 459.8h1.15v1.15h-1.15zM446.2 456.3h1.15v1.15h-1.15zM444.8 457.9h1.15v1.15h-1.15zM447.3 456.0h1.15v1.15h-1.15zM444.8 461.9h1.15v1.15h-1.15zM449.4 461.4h1.15v1.15h-1.15zM445.1 457.3h1.15v1.15h-1.15zM444.5 463.1h1.15v1.15h-1.15zM449.7 463.1h1.15v1.15h-1.15zM444.8 456.3h1.15v1.15h-1.15zM447.3 458.9h1.15v1.15h-1.15z" fill="#2a4a82"/>
<path d="M448.0 475.8h1.15v1.15h-1.15zM442.6 477.5h1.15v1.15h-1.15zM450.7 470.9h1.15v1.15h-1.15zM441.3 475.5h1.15v1.15h-1.15zM447.9 478.2h1.15v1.15h-1.15zM444.3 476.8h1.15v1.15h-1.15zM451.6 473.5h1.15v1.15h-1.15zM446.5 477.2h1.15v1.15h-1.15zM450.8 477.1h1.15v1.15h-1.15zM447.4 476.4h1.15v1.15h-1.15zM442.4 477.9h1.15v1.15h-1.15zM446.6 471.0h1.15v1.15h-1.15zM449.9 467.7h1.15v1.15h-1.15zM447.7 466.8h1.15v1.15h-1.15zM443.2 469.5h1.15v1.15h-1.15zM441.8 473.5h1.15v1.15h-1.15zM450.7 471.6h1.15v1.15h-1.15zM443.6 478.3h1.15v1.15h-1.15zM448.5 470.6h1.15v1.15h-1.15zM450.9 468.4h1.15v1.15h-1.15zM446.6 468.5h1.15v1.15h-1.15zM438.6 470.2h1.15v1.15h-1.15zM438.3 466.0h1.15v1.15h-1.15zM442.5 470.1h1.15v1.15h-1.15zM447.0 478.3h1.15v1.15h-1.15zM449.0 466.8h1.15v1.15h-1.15zM445.5 468.9h1.15v1.15h-1.15zM450.0 475.0h1.15v1.15h-1.15zM445.0 477.6h1.15v1.15h-1.15zM444.2 470.0h1.15v1.15h-1.15zM449.2 469.9h1.15v1.15h-1.15zM448.3 471.8h1.15v1.15h-1.15zM449.9 467.9h1.15v1.15h-1.15zM442.9 478.0h1.15v1.15h-1.15zM441.4 473.7h1.15v1.15h-1.15zM444.4 466.5h1.15v1.15h-1.15zM449.1 468.3h1.15v1.15h-1.15zM448.0 473.1h1.15v1.15h-1.15zM441.6 478.0h1.15v1.15h-1.15zM438.8 467.2h1.15v1.15h-1.15zM450.2 471.7h1.15v1.15h-1.15zM446.3 474.5h1.15v1.15h-1.15zM444.4 476.6h1.15v1.15h-1.15zM447.8 467.4h1.15v1.15h-1.15zM441.7 466.3h1.15v1.15h-1.15zM440.7 466.4h1.15v1.15h-1.15zM446.2 466.8h1.15v1.15h-1.15zM447.3 467.6h1.15v1.15h-1.15zM444.0 476.2h1.15v1.15h-1.15zM448.3 467.5h1.15v1.15h-1.15zM450.3 475.1h1.15v1.15h-1.15zM446.8 472.9h1.15v1.15h-1.15zM447.6 476.7h1.15v1.15h-1.15zM443.7 478.1h1.15v1.15h-1.15zM447.2 475.6h1.15v1.15h-1.15zM439.0 471.8h1.15v1.15h-1.15zM442.5 471.9h1.15v1.15h-1.15zM445.8 473.5h1.15v1.15h-1.15zM439.8 472.4h1.15v1.15h-1.15zM447.3 467.7h1.15v1.15h-1.15zM451.7 474.5h1.15v1.15h-1.15zM443.4 475.9h1.15v1.15h-1.15zM445.8 471.7h1.15v1.15h-1.15zM444.6 476.0h1.15v1.15h-1.15zM445.6 477.4h1.15v1.15h-1.15zM445.4 471.0h1.15v1.15h-1.15zM452.8 470.5h1.15v1.15h-1.15zM444.2 466.6h1.15v1.15h-1.15zM448.4 467.0h1.15v1.15h-1.15zM440.5 467.9h1.15v1.15h-1.15zM447.1 471.3h1.15v1.15h-1.15zM445.1 475.5h1.15v1.15h-1.15zM443.8 469.7h1.15v1.15h-1.15zM442.8 477.0h1.15v1.15h-1.15zM451.5 466.2h1.15v1.15h-1.15zM440.7 472.0h1.15v1.15h-1.15zM451.5 467.7h1.15v1.15h-1.15zM440.7 475.3h1.15v1.15h-1.15zM442.2 474.4h1.15v1.15h-1.15zM447.2 471.6h1.15v1.15h-1.15zM452.3 466.7h1.15v1.15h-1.15zM440.6 470.2h1.15v1.15h-1.15zM441.3 475.7h1.15v1.15h-1.15zM448.0 466.5h1.15v1.15h-1.15zM451.2 471.9h1.15v1.15h-1.15zM442.4 475.8h1.15v1.15h-1.15zM447.3 466.6h1.15v1.15h-1.15zM443.0 471.9h1.15v1.15h-1.15zM442.8 477.4h1.15v1.15h-1.15zM440.4 474.0h1.15v1.15h-1.15zM450.2 477.5h1.15v1.15h-1.15zM443.4 473.7h1.15v1.15h-1.15zM450.5 475.0h1.15v1.15h-1.15zM440.6 475.9h1.15v1.15h-1.15zM440.9 472.3h1.15v1.15h-1.15zM451.7 472.8h1.15v1.15h-1.15zM443.1 476.8h1.15v1.15h-1.15zM443.3 472.9h1.15v1.15h-1.15zM449.3 468.1h1.15v1.15h-1.15zM443.8 475.4h1.15v1.15h-1.15zM448.5 471.2h1.15v1.15h-1.15zM445.3 475.0h1.15v1.15h-1.15zM439.7 467.5h1.15v1.15h-1.15zM450.6 468.1h1.15v1.15h-1.15zM447.7 472.2h1.15v1.15h-1.15zM443.9 470.5h1.15v1.15h-1.15zM452.8 468.2h1.15v1.15h-1.15zM441.0 473.5h1.15v1.15h-1.15zM446.9 474.7h1.15v1.15h-1.15zM449.2 473.6h1.15v1.15h-1.15zM450.5 473.6h1.15v1.15h-1.15zM444.9 478.0h1.15v1.15h-1.15zM444.2 474.1h1.15v1.15h-1.15zM443.9 471.1h1.15v1.15h-1.15zM443.9 474.1h1.15v1.15h-1.15zM450.7 470.4h1.15v1.15h-1.15zM447.7 475.9h1.15v1.15h-1.15zM444.5 476.5h1.15v1.15h-1.15zM442.6 474.0h1.15v1.15h-1.15zM440.0 469.9h1.15v1.15h-1.15zM450.4 475.9h1.15v1.15h-1.15zM444.0 469.8h1.15v1.15h-1.15zM440.4 467.5h1.15v1.15h-1.15zM450.6 473.9h1.15v1.15h-1.15zM442.1 467.1h1.15v1.15h-1.15zM442.6 475.4h1.15v1.15h-1.15zM444.2 476.9h1.15v1.15h-1.15zM441.7 471.9h1.15v1.15h-1.15zM444.6 469.6h1.15v1.15h-1.15zM449.1 469.5h1.15v1.15h-1.15zM447.8 466.4h1.15v1.15h-1.15zM443.8 476.0h1.15v1.15h-1.15zM440.1 468.4h1.15v1.15h-1.15zM450.1 467.0h1.15v1.15h-1.15zM439.5 473.5h1.15v1.15h-1.15zM447.1 471.6h1.15v1.15h-1.15zM439.0 470.0h1.15v1.15h-1.15zM443.7 471.2h1.15v1.15h-1.15zM444.4 478.1h1.15v1.15h-1.15zM449.4 477.5h1.15v1.15h-1.15zM440.9 473.1h1.15v1.15h-1.15zM441.2 476.0h1.15v1.15h-1.15zM440.4 472.9h1.15v1.15h-1.15zM444.4 467.2h1.15v1.15h-1.15zM453.0 468.0h1.15v1.15h-1.15zM450.9 473.2h1.15v1.15h-1.15zM448.2 477.9h1.15v1.15h-1.15zM445.4 474.0h1.15v1.15h-1.15zM447.7 475.7h1.15v1.15h-1.15zM446.2 468.0h1.15v1.15h-1.15zM445.9 471.2h1.15v1.15h-1.15zM448.0 474.9h1.15v1.15h-1.15zM449.5 473.1h1.15v1.15h-1.15zM441.3 476.3h1.15v1.15h-1.15zM439.0 467.8h1.15v1.15h-1.15zM452.5 468.0h1.15v1.15h-1.15zM444.8 469.9h1.15v1.15h-1.15zM446.6 471.8h1.15v1.15h-1.15zM449.8 469.5h1.15v1.15h-1.15zM450.7 470.1h1.15v1.15h-1.15zM440.2 476.0h1.15v1.15h-1.15zM440.4 472.8h1.15v1.15h-1.15zM441.3 477.0h1.15v1.15h-1.15zM449.6 469.3h1.15v1.15h-1.15zM447.9 473.4h1.15v1.15h-1.15zM446.0 471.1h1.15v1.15h-1.15zM445.2 468.5h1.15v1.15h-1.15zM448.3 469.2h1.15v1.15h-1.15zM440.3 467.3h1.15v1.15h-1.15zM446.2 468.5h1.15v1.15h-1.15zM439.3 473.2h1.15v1.15h-1.15zM448.8 478.3h1.15v1.15h-1.15zM440.9 470.7h1.15v1.15h-1.15zM450.9 476.3h1.15v1.15h-1.15zM449.5 468.2h1.15v1.15h-1.15zM450.5 476.2h1.15v1.15h-1.15zM440.1 468.6h1.15v1.15h-1.15zM441.7 468.1h1.15v1.15h-1.15zM449.9 477.2h1.15v1.15h-1.15zM440.6 471.9h1.15v1.15h-1.15zM442.0 470.4h1.15v1.15h-1.15zM448.5 474.1h1.15v1.15h-1.15zM445.0 475.6h1.15v1.15h-1.15zM445.3 471.7h1.15v1.15h-1.15zM445.1 470.6h1.15v1.15h-1.15zM448.3 474.5h1.15v1.15h-1.15zM446.7 470.1h1.15v1.15h-1.15zM439.0 467.8h1.15v1.15h-1.15zM443.7 470.8h1.15v1.15h-1.15zM439.4 466.4h1.15v1.15h-1.15zM451.9 471.3h1.15v1.15h-1.15zM440.7 476.4h1.15v1.15h-1.15zM443.8 470.0h1.15v1.15h-1.15zM440.5 469.9h1.15v1.15h-1.15zM450.1 473.3h1.15v1.15h-1.15zM441.2 470.8h1.15v1.15h-1.15zM438.5 467.3h1.15v1.15h-1.15zM442.6 475.5h1.15v1.15h-1.15zM449.2 475.0h1.15v1.15h-1.15zM441.1 467.1h1.15v1.15h-1.15zM449.6 469.9h1.15v1.15h-1.15zM443.4 475.2h1.15v1.15h-1.15zM443.7 471.6h1.15v1.15h-1.15zM449.7 471.9h1.15v1.15h-1.15zM450.3 469.3h1.15v1.15h-1.15zM446.7 477.4h1.15v1.15h-1.15zM449.9 477.9h1.15v1.15h-1.15zM453.0 468.1h1.15v1.15h-1.15zM450.2 468.5h1.15v1.15h-1.15zM442.8 467.5h1.15v1.15h-1.15zM450.4 471.5h1.15v1.15h-1.15zM442.1 474.5h1.15v1.15h-1.15zM449.4 477.2h1.15v1.15h-1.15zM439.7 472.3h1.15v1.15h-1.15zM442.7 469.6h1.15v1.15h-1.15zM451.9 471.2h1.15v1.15h-1.15zM449.8 473.4h1.15v1.15h-1.15zM441.9 466.9h1.15v1.15h-1.15zM443.8 475.1h1.15v1.15h-1.15zM439.3 468.8h1.15v1.15h-1.15zM444.4 466.7h1.15v1.15h-1.15zM444.4 472.8h1.15v1.15h-1.15zM443.0 473.0h1.15v1.15h-1.15zM448.3 466.2h1.15v1.15h-1.15zM445.6 470.2h1.15v1.15h-1.15zM442.5 470.7h1.15v1.15h-1.15zM442.7 466.7h1.15v1.15h-1.15zM440.2 469.7h1.15v1.15h-1.15zM445.4 466.4h1.15v1.15h-1.15zM451.4 466.3h1.15v1.15h-1.15zM444.9 470.5h1.15v1.15h-1.15zM439.4 472.5h1.15v1.15h-1.15zM450.0 467.3h1.15v1.15h-1.15zM445.6 472.9h1.15v1.15h-1.15zM449.3 470.3h1.15v1.15h-1.15zM449.7 472.3h1.15v1.15h-1.15zM450.0 476.4h1.15v1.15h-1.15zM447.8 475.0h1.15v1.15h-1.15zM446.2 471.7h1.15v1.15h-1.15zM446.1 473.2h1.15v1.15h-1.15zM449.7 476.2h1.15v1.15h-1.15zM449.5 466.7h1.15v1.15h-1.15zM447.0 473.7h1.15v1.15h-1.15zM441.2 477.3h1.15v1.15h-1.15zM444.0 471.9h1.15v1.15h-1.15zM442.5 477.8h1.15v1.15h-1.15zM441.1 473.0h1.15v1.15h-1.15zM445.6 475.4h1.15v1.15h-1.15zM443.5 475.1h1.15v1.15h-1.15zM440.6 477.0h1.15v1.15h-1.15zM449.2 468.8h1.15v1.15h-1.15zM448.6 476.9h1.15v1.15h-1.15zM439.6 469.4h1.15v1.15h-1.15zM448.5 474.8h1.15v1.15h-1.15zM452.2 466.8h1.15v1.15h-1.15zM439.5 472.6h1.15v1.15h-1.15zM443.5 472.0h1.15v1.15h-1.15zM451.5 467.3h1.15v1.15h-1.15zM442.1 477.6h1.15v1.15h-1.15zM442.6 471.6h1.15v1.15h-1.15z" fill="#47526e"/>
<path d="M442.5 472.3h1.0v1.0h-1.0zM452.0 467.3h1.0v1.0h-1.0zM451.2 468.5h1.0v1.0h-1.0zM440.4 477.4h1.0v1.0h-1.0zM451.0 477.2h1.0v1.0h-1.0zM457.2 463.8h1.0v1.0h-1.0zM441.6 464.1h1.0v1.0h-1.0zM439.5 471.0h1.0v1.0h-1.0zM450.0 466.1h1.0v1.0h-1.0zM453.0 459.9h1.0v1.0h-1.0zM447.5 461.2h1.0v1.0h-1.0zM450.3 475.5h1.0v1.0h-1.0zM457.2 460.3h1.0v1.0h-1.0zM448.2 474.4h1.0v1.0h-1.0zM452.3 476.6h1.0v1.0h-1.0zM447.6 477.9h1.0v1.0h-1.0zM450.6 478.0h1.0v1.0h-1.0zM446.4 473.7h1.0v1.0h-1.0zM441.2 474.1h1.0v1.0h-1.0zM443.0 469.5h1.0v1.0h-1.0z" fill="#4a5572" opacity="0.7"/>
<text x="0.10" y="537.60" font-size="11.6" font-weight="bold" fill="#000" style="stroke:#000">F</text>
<text x="3.00" y="556.80" font-size="6.4">Compound:</text>
<text x="3.0" y="564.6" font-size="6.5">(3 <tspan font-style="italic">µM</tspan>)</text>
<text x="50.00" y="564.20" font-size="6.3" transform="rotate(-50 50.00 564.20)">Vehicle</text>
<text x="68.80" y="564.20" font-size="6.3" transform="rotate(-50 68.80 564.20)">TL12-186</text>
<text x="89.30" y="564.20" font-size="6.3" transform="rotate(-50 89.30 564.20)">DD-04-015</text>
<text x="111.30" y="564.20" font-size="6.3" transform="rotate(-50 111.30 564.20)">DD-03-171</text>
<text x="36.40" y="576.65" font-size="6.4" text-anchor="end">BTK</text>
<text x="36.40" y="594.10" font-size="6.4" text-anchor="end">TEC</text>
<text x="36.40" y="611.35" font-size="6.4" text-anchor="end">FAK</text>
<text x="36.40" y="627.65" font-size="6.4" text-anchor="end">PYK2</text>
<text x="36.40" y="644.85" font-size="6.4" text-anchor="end">Talin</text>
<rect x="40.60" y="568.30" width="78.40" height="12.10" fill="#d6d6d6" stroke="#1e1e1e" stroke-width="1.2" />
<rect x="43.50" y="576.75" width="17.00" height="1.70" rx="0.85" fill="#111" opacity="0.85" filter="url(#bl)"/>
<rect x="81.50" y="576.00" width="17.00" height="2.40" rx="1.20" fill="#111" opacity="0.06" filter="url(#bl)"/>
<rect x="101.00" y="576.00" width="17.00" height="2.40" rx="1.20" fill="#111" opacity="0.05" filter="url(#bl)"/>
<rect x="40.60" y="586.80" width="78.40" height="10.00" fill="#d3d3d3" stroke="#1e1e1e" stroke-width="1.2" />
<rect x="43.00" y="591.30" width="15.00" height="2.60" rx="1.30" fill="#111" opacity="0.65" filter="url(#bl)"/>
<rect x="63.50" y="591.40" width="15.00" height="2.40" rx="1.20" fill="#111" opacity="0.12" filter="url(#bl)"/>
<rect x="82.00" y="590.90" width="16.00" height="2.80" rx="1.40" fill="#111" opacity="0.25" filter="url(#bl)"/>
<rect x="101.50" y="590.00" width="16.00" height="3.60" rx="1.80" fill="#111" opacity="0.38" filter="url(#bl)"/>
<rect x="40.60" y="604.30" width="78.40" height="9.50" fill="#d8d8d8" stroke="#1e1e1e" stroke-width="1.2" />
<rect x="43.00" y="608.20" width="16.00" height="2.20" rx="1.10" fill="#111" opacity="0.70" filter="url(#bl)"/>
<rect x="63.00" y="608.30" width="16.00" height="2.00" rx="1.00" fill="#111" opacity="0.08" filter="url(#bl)"/>
<rect x="81.50" y="607.90" width="17.00" height="2.20" rx="1.10" fill="#111" opacity="0.72" filter="url(#bl)"/>
<rect x="101.00" y="607.90" width="17.00" height="2.20" rx="1.10" fill="#111" opacity="0.72" filter="url(#bl)"/>
<rect x="40.60" y="620.10" width="78.40" height="10.50" fill="#d4d4d4" stroke="#1e1e1e" stroke-width="1.2" />
<rect x="43.00" y="622.10" width="16.00" height="4.20" rx="2.10" fill="#111" opacity="0.30" filter="url(#bl)"/>
<rect x="43.00" y="626.40" width="16.00" height="2.40" rx="1.20" fill="#111" opacity="0.15" filter="url(#bl)"/>
<rect x="63.00" y="624.00" width="16.00" height="3.00" rx="1.50" fill="#111" opacity="0.05" filter="url(#bl)"/>
<rect x="81.50" y="622.30" width="17.00" height="4.20" rx="2.10" fill="#111" opacity="0.30" filter="url(#bl)"/>
<rect x="81.50" y="626.40" width="17.00" height="2.40" rx="1.20" fill="#111" opacity="0.15" filter="url(#bl)"/>
<rect x="101.00" y="622.30" width="17.00" height="4.20" rx="2.10" fill="#111" opacity="0.28" filter="url(#bl)"/>
<rect x="101.00" y="626.40" width="17.00" height="2.40" rx="1.20" fill="#111" opacity="0.15" filter="url(#bl)"/>
<rect x="40.10" y="637.60" width="79.80" height="9.90" fill="#cccccc" stroke="#1e1e1e" stroke-width="1.2" />
<rect x="42.50" y="641.90" width="17.00" height="2.60" rx="1.30" fill="#111" opacity="0.80" filter="url(#bl)"/>
<rect x="62.50" y="641.90" width="17.00" height="2.60" rx="1.30" fill="#111" opacity="0.80" filter="url(#bl)"/>
<rect x="81.50" y="641.90" width="17.00" height="2.60" rx="1.30" fill="#111" opacity="0.80" filter="url(#bl)"/>
<rect x="101.00" y="641.50" width="17.00" height="2.60" rx="1.30" fill="#111" opacity="0.80" filter="url(#bl)"/>
<line x1="168.50" y1="577.60" x2="168.50" y2="648.00" stroke="#231f20" stroke-width="1.1"/>
<line x1="165.50" y1="647.20" x2="168.50" y2="647.20" stroke="#231f20" stroke-width="1.1"/>
<text x="162.40" y="649.40" font-size="6.3" text-anchor="end">0</text>
<line x1="165.50" y1="630.43" x2="168.50" y2="630.43" stroke="#231f20" stroke-width="1.1"/>
<text x="162.40" y="632.63" font-size="6.3" text-anchor="end">50</text>
<line x1="165.50" y1="613.65" x2="168.50" y2="613.65" stroke="#231f20" stroke-width="1.1"/>
<text x="162.40" y="615.85" font-size="6.3" text-anchor="end">100</text>
<line x1="165.50" y1="596.88" x2="168.50" y2="596.88" stroke="#231f20" stroke-width="1.1"/>
<text x="162.40" y="599.08" font-size="6.3" text-anchor="end">150</text>
<line x1="165.50" y1="580.10" x2="168.50" y2="580.10" stroke="#231f20" stroke-width="1.1"/>
<text x="162.40" y="582.30" font-size="6.3" text-anchor="end">200</text>
<line x1="168.00" y1="647.60" x2="269.70" y2="647.60" stroke="#231f20" stroke-width="1.1"/>
<line x1="181.30" y1="647.60" x2="181.30" y2="650.40" stroke="#231f20" stroke-width="1.1"/>
<text x="181.30" y="659.20" font-size="6.1" text-anchor="middle">BTK</text>
<line x1="206.40" y1="647.60" x2="206.40" y2="650.40" stroke="#231f20" stroke-width="1.1"/>
<text x="206.40" y="659.20" font-size="6.1" text-anchor="middle">TEC</text>
<line x1="231.50" y1="647.60" x2="231.50" y2="650.40" stroke="#231f20" stroke-width="1.1"/>
<text x="231.50" y="659.20" font-size="6.1" text-anchor="middle">FAK</text>
<line x1="256.60" y1="647.60" x2="256.60" y2="650.40" stroke="#231f20" stroke-width="1.1"/>
<text x="256.60" y="659.20" font-size="6.1" text-anchor="middle">PYK2</text>
<rect x="171.80" y="613.65" width="3.80" height="33.55" fill="#c8102e" />
<rect x="176.90" y="646.86" width="3.80" height="0.34" fill="#5a2a82" />
<rect x="181.90" y="646.19" width="3.80" height="1.01" fill="#1f4e8c" />
<rect x="196.90" y="613.65" width="3.80" height="33.55" fill="#c8102e" />
<rect x="202.00" y="645.52" width="3.80" height="1.68" fill="#5a2a82" />
<line x1="203.90" y1="644.52" x2="203.90" y2="646.53" stroke="#222" stroke-width="0.9"/>
<line x1="202.60" y1="644.52" x2="205.20" y2="644.52" stroke="#222" stroke-width="0.9"/>
<rect x="207.00" y="644.52" width="3.80" height="2.68" fill="#1f4e8c" />
<line x1="208.90" y1="643.17" x2="208.90" y2="645.86" stroke="#222" stroke-width="0.9"/>
<line x1="207.60" y1="643.17" x2="210.20" y2="643.17" stroke="#222" stroke-width="0.9"/>
<rect x="212.10" y="640.49" width="3.80" height="6.71" fill="#3daa48" />
<line x1="214.00" y1="637.47" x2="214.00" y2="643.51" stroke="#222" stroke-width="0.9"/>
<line x1="212.70" y1="637.47" x2="215.30" y2="637.47" stroke="#222" stroke-width="0.9"/>
<rect x="222.00" y="613.65" width="3.80" height="33.55" fill="#c8102e" />
<rect x="227.10" y="645.52" width="3.80" height="1.68" fill="#5a2a82" />
<line x1="229.00" y1="644.18" x2="229.00" y2="646.86" stroke="#222" stroke-width="0.9"/>
<line x1="227.70" y1="644.18" x2="230.30" y2="644.18" stroke="#222" stroke-width="0.9"/>
<rect x="232.10" y="606.94" width="3.80" height="40.26" fill="#1f4e8c" />
<line x1="234.00" y1="599.56" x2="234.00" y2="614.32" stroke="#222" stroke-width="0.9"/>
<line x1="232.70" y1="599.56" x2="235.30" y2="599.56" stroke="#222" stroke-width="0.9"/>
<rect x="237.20" y="604.26" width="3.80" height="42.94" fill="#3daa48" />
<line x1="239.10" y1="598.22" x2="239.10" y2="610.30" stroke="#222" stroke-width="0.9"/>
<line x1="237.80" y1="598.22" x2="240.40" y2="598.22" stroke="#222" stroke-width="0.9"/>
<rect x="247.10" y="613.65" width="3.80" height="33.55" fill="#c8102e" />
<rect x="252.20" y="646.53" width="3.80" height="0.67" fill="#5a2a82" />
<rect x="257.20" y="611.64" width="3.80" height="35.56" fill="#1f4e8c" />
<line x1="259.10" y1="603.25" x2="259.10" y2="620.02" stroke="#222" stroke-width="0.9"/>
<line x1="257.80" y1="603.25" x2="260.40" y2="603.25" stroke="#222" stroke-width="0.9"/>
<rect x="262.30" y="609.29" width="3.80" height="37.91" fill="#3daa48" />
<line x1="264.20" y1="596.20" x2="264.20" y2="622.37" stroke="#222" stroke-width="0.9"/>
<line x1="262.90" y1="596.20" x2="265.50" y2="596.20" stroke="#222" stroke-width="0.9"/>
<text x="179.90" y="634.20" font-size="4.6" text-anchor="middle">*</text>
<text x="179.90" y="638.40" font-size="4.6" text-anchor="middle">*</text>
<text x="179.90" y="642.40" font-size="4.6" text-anchor="middle">*</text>
<text x="179.90" y="646.20" font-size="4.6" text-anchor="middle">*</text>
<text x="184.10" y="634.20" font-size="4.6" text-anchor="middle">*</text>
<text x="184.10" y="638.40" font-size="4.6" text-anchor="middle">*</text>
<text x="184.10" y="642.40" font-size="4.6" text-anchor="middle">*</text>
<text x="184.10" y="646.20" font-size="4.6" text-anchor="middle">*</text>
<text x="188.10" y="634.20" font-size="4.6" text-anchor="middle">*</text>
<text x="188.10" y="638.40" font-size="4.6" text-anchor="middle">*</text>
<text x="188.10" y="642.40" font-size="4.6" text-anchor="middle">*</text>
<text x="188.10" y="646.20" font-size="4.6" text-anchor="middle">*</text>
<text x="204.20" y="635.70" font-size="4.6" text-anchor="middle">*</text>
<text x="204.20" y="640.10" font-size="4.6" text-anchor="middle">*</text>
<text x="204.20" y="644.20" font-size="4.6" text-anchor="middle">*</text>
<text x="208.80" y="641.20" font-size="4.6" text-anchor="middle">*</text>
<text x="208.80" y="645.00" font-size="4.6" text-anchor="middle">*</text>
<text x="214.20" y="636.70" font-size="4.6" text-anchor="middle">*</text>
<text x="214.20" y="639.70" font-size="4.6" text-anchor="middle">*</text>
<text x="228.80" y="636.70" font-size="4.6" text-anchor="middle">*</text>
<text x="228.80" y="640.40" font-size="4.6" text-anchor="middle">*</text>
<text x="228.80" y="643.90" font-size="4.6" text-anchor="middle">*</text>
<text x="253.70" y="633.20" font-size="4.6" text-anchor="middle">*</text>
<text x="253.70" y="637.50" font-size="4.6" text-anchor="middle">*</text>
<text x="253.70" y="641.70" font-size="4.6" text-anchor="middle">*</text>
<text x="253.70" y="645.90" font-size="4.6" text-anchor="middle">*</text>
<circle cx="184.0" cy="646.0" r="1.4" fill="#1f3050"/>
<text x="136.90" y="612.60" font-size="7.2" text-anchor="middle" textLength="49.50" lengthAdjust="spacingAndGlyphs" transform="rotate(-90 136.90 612.60)">Protein expression</text>
<text x="146.20" y="612.00" font-size="7.2" text-anchor="middle" textLength="37.00" lengthAdjust="spacingAndGlyphs" transform="rotate(-90 146.20 612.00)">(% of control)</text>
<rect x="189.70" y="556.70" width="4.10" height="4.10" fill="#c8102e" />
<text x="197.40" y="561.00" font-size="6.3">V</text>
<rect x="224.00" y="556.70" width="4.10" height="4.10" fill="#5a2a82" />
<text x="232.20" y="561.00" font-size="6.3">TL12</text>
<rect x="189.70" y="568.20" width="4.10" height="4.10" fill="#1f4e8c" />
<text x="197.80" y="572.40" font-size="6.3">DD04</text>
<rect x="224.00" y="568.20" width="4.10" height="4.10" fill="#3daa48" />
<text x="232.20" y="572.40" font-size="6.3">DD03</text>
<text x="285.00" y="536.40" font-size="11" font-weight="bold" fill="#000" style="stroke:#000">G</text>
<text x="284.30" y="561.20" font-size="6.6">PROTAC 8:</text>
<text x="330.30" y="562.00" font-size="6.4" transform="rotate(-45 330.30 562.00)">Vehicle</text>
<text x="348.80" y="562.20" font-size="6.4" transform="rotate(-45 348.80 562.20)">0.3 µM</text>
<text x="368.80" y="562.60" font-size="6.4" transform="rotate(-45 368.80 562.60)">3 µM</text>
<text x="318.50" y="574.10" font-size="6.4" text-anchor="end">BTK</text>
<text x="318.50" y="591.15" font-size="6.4" text-anchor="end">TEC</text>
<text x="318.50" y="606.35" font-size="6.4" text-anchor="end">FAK</text>
<text x="318.50" y="623.85" font-size="6.4" text-anchor="end">PYK2</text>
<text x="318.50" y="641.40" font-size="6.4" text-anchor="end">Talin</text>
<rect x="321.80" y="566.90" width="57.40" height="9.80" fill="#d0d0d0" stroke="#1e1e1e" stroke-width="1.2" />
<rect x="323.00" y="570.60" width="16.00" height="2.60" rx="1.30" fill="#111" opacity="0.90" filter="url(#bl)"/>
<rect x="341.40" y="570.60" width="16.00" height="2.60" rx="1.30" fill="#111" opacity="0.90" filter="url(#bl)"/>
<rect x="360.00" y="570.60" width="16.00" height="2.60" rx="1.30" fill="#111" opacity="0.90" filter="url(#bl)"/>
<rect x="321.80" y="584.10" width="57.40" height="9.50" fill="#d0d0d0" stroke="#1e1e1e" stroke-width="1.2" />
<rect x="323.25" y="587.50" width="15.50" height="2.20" rx="1.10" fill="#111" opacity="0.85" filter="url(#bl)"/>
<rect x="341.65" y="587.50" width="15.50" height="2.20" rx="1.10" fill="#111" opacity="0.85" filter="url(#bl)"/>
<rect x="360.25" y="587.50" width="15.50" height="2.20" rx="1.10" fill="#111" opacity="0.85" filter="url(#bl)"/>
<rect x="321.80" y="599.10" width="57.40" height="9.90" fill="#e0e0e0" stroke="#1e1e1e" stroke-width="1.2" />
<rect x="324.00" y="603.40" width="14.00" height="1.80" rx="0.90" fill="#111" opacity="0.42" filter="url(#bl)"/>
<rect x="342.40" y="603.40" width="14.00" height="1.80" rx="0.90" fill="#111" opacity="0.42" filter="url(#bl)"/>
<rect x="361.00" y="603.40" width="14.00" height="1.80" rx="0.90" fill="#111" opacity="0.06" filter="url(#bl)"/>
<rect x="321.80" y="616.40" width="57.40" height="10.30" fill="#d2d2d2" stroke="#1e1e1e" stroke-width="1.2" />
<rect x="323.50" y="620.00" width="15.00" height="4.00" rx="2.00" fill="#111" opacity="0.33" filter="url(#bl)"/>
<rect x="341.90" y="620.00" width="15.00" height="4.00" rx="2.00" fill="#111" opacity="0.33" filter="url(#bl)"/>
<rect x="360.50" y="620.00" width="15.00" height="4.00" rx="2.00" fill="#111" opacity="0.33" filter="url(#bl)"/>
<rect x="321.80" y="634.60" width="57.40" height="9.00" fill="#cfcfcf" stroke="#1e1e1e" stroke-width="1.2" />
<rect x="323.25" y="637.20" width="15.50" height="3.60" rx="1.80" fill="#111" opacity="0.90" filter="url(#bl)"/>
<rect x="341.65" y="637.20" width="15.50" height="3.60" rx="1.80" fill="#111" opacity="0.90" filter="url(#bl)"/>
<rect x="360.25" y="637.20" width="15.50" height="3.60" rx="1.80" fill="#111" opacity="0.90" filter="url(#bl)"/>
<line x1="428.30" y1="568.50" x2="428.30" y2="631.00" stroke="#231f20" stroke-width="1.1"/>
<line x1="425.30" y1="630.20" x2="428.30" y2="630.20" stroke="#231f20" stroke-width="1.1"/>
<text x="422.30" y="632.40" font-size="6.3" text-anchor="end">0</text>
<line x1="425.30" y1="610.60" x2="428.30" y2="610.60" stroke="#231f20" stroke-width="1.1"/>
<text x="422.30" y="612.80" font-size="6.3" text-anchor="end">50</text>
<line x1="425.30" y1="591.00" x2="428.30" y2="591.00" stroke="#231f20" stroke-width="1.1"/>
<text x="422.30" y="593.20" font-size="6.3" text-anchor="end">100</text>
<line x1="425.30" y1="571.40" x2="428.30" y2="571.40" stroke="#231f20" stroke-width="1.1"/>
<text x="422.30" y="573.60" font-size="6.3" text-anchor="end">150</text>
<line x1="428.00" y1="630.20" x2="520.00" y2="630.20" stroke="#231f20" stroke-width="1.1"/>
<line x1="439.90" y1="630.20" x2="439.90" y2="633.00" stroke="#231f20" stroke-width="1.1"/>
<text x="439.90" y="642.00" font-size="6.1" text-anchor="middle">BTK</text>
<line x1="462.50" y1="630.20" x2="462.50" y2="633.00" stroke="#231f20" stroke-width="1.1"/>
<text x="462.50" y="642.00" font-size="6.1" text-anchor="middle">TEC</text>
<line x1="485.20" y1="630.20" x2="485.20" y2="633.00" stroke="#231f20" stroke-width="1.1"/>
<text x="485.20" y="642.00" font-size="6.1" text-anchor="middle">FAK</text>
<line x1="508.10" y1="630.20" x2="508.10" y2="633.00" stroke="#231f20" stroke-width="1.1"/>
<text x="508.10" y="642.00" font-size="6.1" text-anchor="middle">PYK2</text>
<rect x="432.00" y="591.39" width="4.50" height="38.81" fill="#c8102e" />
<rect x="437.60" y="586.10" width="4.50" height="44.10" fill="#1f4e8c" />
<line x1="439.85" y1="581.79" x2="439.85" y2="590.41" stroke="#222" stroke-width="0.9"/>
<line x1="438.55" y1="581.79" x2="441.15" y2="581.79" stroke="#222" stroke-width="0.9"/>
<rect x="443.40" y="590.22" width="4.50" height="39.98" fill="#3daa48" />
<line x1="445.65" y1="586.69" x2="445.65" y2="593.74" stroke="#222" stroke-width="0.9"/>
<line x1="444.35" y1="586.69" x2="446.95" y2="586.69" stroke="#222" stroke-width="0.9"/>
<rect x="454.60" y="591.39" width="4.50" height="38.81" fill="#c8102e" />
<rect x="460.20" y="587.98" width="4.50" height="42.22" fill="#1f4e8c" />
<line x1="462.45" y1="582.49" x2="462.45" y2="593.47" stroke="#222" stroke-width="0.9"/>
<line x1="461.15" y1="582.49" x2="463.75" y2="582.49" stroke="#222" stroke-width="0.9"/>
<rect x="466.00" y="588.02" width="4.50" height="42.18" fill="#3daa48" />
<line x1="468.25" y1="584.49" x2="468.25" y2="591.55" stroke="#222" stroke-width="0.9"/>
<line x1="466.95" y1="584.49" x2="469.55" y2="584.49" stroke="#222" stroke-width="0.9"/>
<rect x="477.30" y="591.39" width="4.50" height="38.81" fill="#c8102e" />
<rect x="482.90" y="599.47" width="4.50" height="30.73" fill="#1f4e8c" />
<line x1="485.15" y1="597.90" x2="485.15" y2="601.04" stroke="#222" stroke-width="0.9"/>
<line x1="483.85" y1="597.90" x2="486.45" y2="597.90" stroke="#222" stroke-width="0.9"/>
<rect x="488.70" y="618.71" width="4.50" height="11.49" fill="#3daa48" />
<line x1="490.95" y1="617.15" x2="490.95" y2="620.28" stroke="#222" stroke-width="0.9"/>
<line x1="489.65" y1="617.15" x2="492.25" y2="617.15" stroke="#222" stroke-width="0.9"/>
<rect x="500.20" y="591.39" width="4.50" height="38.81" fill="#c8102e" />
<rect x="505.80" y="587.98" width="4.50" height="42.22" fill="#1f4e8c" />
<line x1="508.05" y1="584.06" x2="508.05" y2="591.90" stroke="#222" stroke-width="0.9"/>
<line x1="506.75" y1="584.06" x2="509.35" y2="584.06" stroke="#222" stroke-width="0.9"/>
<rect x="511.60" y="594.14" width="4.50" height="36.06" fill="#3daa48" />
<line x1="513.85" y1="589.43" x2="513.85" y2="598.84" stroke="#222" stroke-width="0.9"/>
<line x1="512.55" y1="589.43" x2="515.15" y2="589.43" stroke="#222" stroke-width="0.9"/>
<text x="485.80" y="592.50" font-size="4.6" text-anchor="middle">*</text>
<text x="485.80" y="595.70" font-size="4.6" text-anchor="middle">*</text>
<text x="485.80" y="599.10" font-size="4.6" text-anchor="middle">*</text>
<text x="491.60" y="606.70" font-size="4.6" text-anchor="middle">*</text>
<text x="491.60" y="610.10" font-size="4.6" text-anchor="middle">*</text>
<text x="491.60" y="613.20" font-size="4.6" text-anchor="middle">*</text>
<text x="491.60" y="615.90" font-size="4.6" text-anchor="middle">*</text>
<text x="397.10" y="599.50" font-size="7.2" text-anchor="middle" textLength="48.90" lengthAdjust="spacingAndGlyphs" transform="rotate(-90 397.10 599.50)">Protein expression</text>
<text x="406.20" y="599.50" font-size="7.2" text-anchor="middle" textLength="36.50" lengthAdjust="spacingAndGlyphs" transform="rotate(-90 406.20 599.50)">(% of control)</text>
<rect x="451.30" y="559.40" width="4.30" height="4.20" fill="#c8102e" />
<text x="458.50" y="563.50" font-size="6.3">V</text>
<rect x="466.00" y="559.40" width="4.20" height="4.20" fill="#1f4e8c" />
<text x="473.90" y="563.50" font-size="6.3">0.3</text>
<rect x="486.20" y="559.40" width="4.30" height="4.20" fill="#3daa48" />
<text x="493.40" y="563.50" font-size="6.3">3</text>
</svg>
</body></html>
